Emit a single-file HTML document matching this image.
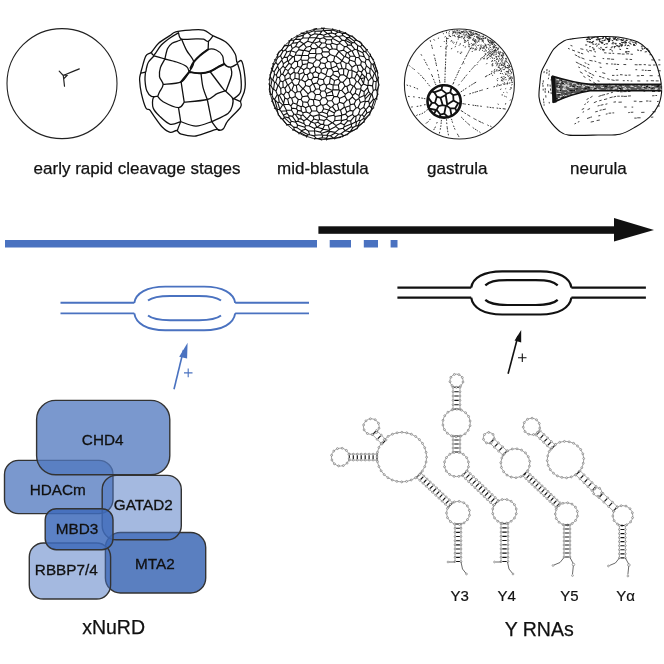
<!DOCTYPE html><html><head><meta charset="utf-8"><style>html,body{margin:0;padding:0;background:#fff;width:664px;height:664px;overflow:hidden}svg{display:block;will-change:transform}</style></head><body><svg width="664" height="664" viewBox="0 0 664 664"><circle cx="62" cy="83.6" r="55" fill="none" stroke="#222" stroke-width="1.1"/>
<path d="M59.2 71.2 L63.3 75.5 L64.5 86.2 M63.3 75.5 C68 73.5 74 71 79.3 68.9 M63.5 75 L67 75.5 L64.5 78" fill="none" stroke="#222" stroke-width="1.2" stroke-linecap="round"/>
<path d="M175.8 31.9C179.2 30.9 185.4 30.4 190.0 30.1C194.6 29.8 199.8 29.2 203.6 30.1C207.4 31.0 208.8 33.5 212.6 35.5C216.3 37.5 222.3 39.2 226.1 42.3C229.9 45.4 233.4 50.7 235.2 54.0C237.0 57.3 235.9 61.0 237.0 62.1C238.1 63.2 240.3 59.3 241.5 60.8C242.7 62.3 243.6 67.3 244.2 71.2C244.8 75.1 245.3 80.5 245.3 84.0C245.3 87.5 245.0 89.2 244.2 92.0C243.4 94.8 241.2 98.5 240.6 101.0C240.0 103.5 242.7 103.8 240.6 107.1C238.5 110.4 230.9 117.1 228.0 120.7C225.1 124.3 224.9 127.2 223.4 128.8C221.9 130.4 220.2 130.2 218.9 130.4C217.6 130.6 219.1 128.8 215.3 129.7C211.5 130.6 201.7 135.2 196.0 136.0C190.3 136.8 184.4 135.1 181.2 134.2C178.0 133.3 178.5 130.8 176.7 130.5C174.9 130.2 172.7 133.0 170.3 132.4C167.9 131.8 164.9 129.7 162.2 127.0C159.5 124.3 156.1 119.0 154.0 116.1C151.9 113.2 150.9 111.1 149.6 109.8C148.2 108.5 147.3 110.7 145.9 108.0C144.5 105.3 142.5 98.3 141.4 93.6C140.3 88.9 139.8 83.3 139.6 80.0C139.4 76.7 140.1 75.8 140.5 73.9C140.9 72.0 141.0 71.5 141.9 68.5C142.8 65.5 144.3 58.5 145.9 55.8C147.5 53.1 149.3 54.3 151.4 52.2C153.5 50.1 155.6 45.9 158.6 43.2C161.6 40.5 166.5 37.8 169.4 35.9C172.3 34.0 172.4 32.9 175.8 31.9ZM178.5 32.8C179.0 33.8 178.7 38.1 181.6 39.1C184.5 40.1 192.3 38.8 196.0 38.8C199.7 38.8 201.6 38.7 203.6 39.1C205.6 39.5 206.6 41.9 208.1 41.4C209.6 40.9 211.8 37.2 212.6 36.4M181.6 39.1C182.4 41.0 184.6 46.6 186.6 50.4C188.6 54.2 193.3 58.4 193.7 62.0C194.1 65.6 189.9 70.3 189.2 72.0M164.9 59.0C165.3 57.3 166.4 51.2 167.6 48.6C168.8 46.0 170.1 44.6 172.1 43.2C174.1 41.9 177.8 41.2 179.4 40.5C181.0 39.8 181.2 39.3 181.6 39.1M151.4 52.2C151.8 52.7 152.4 56.1 154.1 54.9C155.8 53.7 158.6 47.9 161.3 45.0C164.0 42.1 167.4 39.7 170.3 37.7C173.2 35.7 177.1 33.6 178.5 32.8M154.1 55.8C155.9 56.3 163.1 58.5 164.9 59.0M154.1 55.8C153.2 56.8 149.8 60.0 148.5 62.0C147.2 64.0 147.0 66.3 146.5 68.0C146.0 69.7 146.4 71.3 145.5 72.1C144.6 72.9 141.8 72.8 141.0 73.0M145.5 72.1C145.4 73.4 144.8 76.9 145.0 80.0C145.2 83.1 145.7 88.1 146.8 90.8C147.9 93.5 149.6 95.4 151.4 96.3C153.2 97.2 156.6 96.3 157.7 96.3M164.9 59.0C166.8 59.5 172.9 60.8 176.5 62.0C180.1 63.2 184.4 64.8 186.5 66.5C188.6 68.2 188.8 71.1 189.2 72.0M189.2 72.0C191.2 72.2 197.5 73.4 201.0 73.3C204.5 73.2 207.0 72.6 210.0 71.5C213.0 70.4 216.6 67.8 219.0 66.5C221.4 65.2 223.4 64.4 224.3 64.0M193.7 62.0C194.8 60.9 197.6 57.6 200.0 55.5C202.4 53.4 205.4 50.4 208.1 49.5C210.8 48.6 213.8 49.0 216.2 50.0C218.6 51.0 221.2 53.5 222.5 55.8C223.8 58.1 222.9 62.1 224.3 64.0C225.7 65.9 228.6 67.1 230.7 67.1C232.8 67.1 235.9 64.5 237.0 64.0M208.5 41.4C208.4 42.8 208.2 48.1 208.1 49.5M189.2 72.0C187.8 73.7 185.4 79.8 181.1 81.9C176.8 84.0 166.1 84.1 163.1 84.5M164.9 59.0C164.2 60.4 161.3 64.7 160.4 67.6C159.5 70.5 159.1 73.8 159.5 76.6C159.9 79.4 163.1 81.9 163.1 84.5C163.1 87.1 160.4 90.0 159.5 92.0C158.6 94.0 158.0 95.6 157.7 96.3M181.1 81.9C181.6 85.3 183.7 98.8 184.2 102.2M201.0 73.3C201.3 75.6 201.9 82.9 203.0 87.3C204.1 91.7 206.6 97.5 207.3 99.5M210.0 71.5C212.1 74.3 220.1 85.0 222.6 88.2C225.1 91.4 224.8 90.4 225.2 90.8M184.2 102.2C188.0 101.8 201.8 100.9 207.3 99.5C212.8 98.1 214.1 95.0 217.1 93.6C220.1 92.1 223.8 91.3 225.2 90.8M184.2 102.2C183.2 103.1 182.0 107.7 178.5 107.6C175.0 107.5 166.6 103.6 163.1 101.7C159.6 99.8 158.6 97.2 157.7 96.3M178.5 107.6C178.9 109.9 180.3 119.3 180.7 121.6M180.7 121.6C179.0 122.0 173.8 125.2 170.3 124.3C166.8 123.4 162.3 118.8 159.5 116.1C156.7 113.4 154.2 111.0 153.2 108.0C152.1 105.0 152.4 100.0 153.2 98.0C153.9 96.0 156.9 96.6 157.7 96.3M180.7 121.6C183.2 122.3 190.8 126.1 196.0 126.1C201.2 126.1 209.1 122.3 211.7 121.6M180.7 121.6C180.2 122.9 178.1 128.3 177.6 129.7M207.3 99.5C208.0 103.2 211.0 117.9 211.7 121.6M211.7 121.6C214.4 120.2 224.5 116.1 228.0 113.4C231.5 110.7 231.8 107.8 232.5 105.3C233.2 102.8 233.7 100.5 232.5 98.1C231.3 95.7 226.4 92.0 225.2 90.8M211.7 121.6C212.6 122.8 215.8 127.4 217.1 128.8C218.4 130.2 219.4 129.9 219.8 130.1M232.5 98.1C233.8 98.7 239.2 101.1 240.6 101.7M237.0 62.1C237.6 64.2 240.0 70.1 240.6 75.0C241.2 79.9 241.8 87.7 240.6 91.7C239.4 95.7 234.6 97.8 233.4 99.0M230.7 67.1C230.8 68.4 232.4 71.0 231.6 75.0C230.8 79.0 227.0 88.2 226.1 90.8" fill="none" stroke="#111" stroke-width="1.3" stroke-linejoin="round" stroke-linecap="round"/><path d="M189.2 72.0C191.2 72.2 197.5 73.4 201.0 73.3C204.5 73.2 207.0 72.6 210.0 71.5C213.0 70.4 216.6 67.8 219.0 66.5C221.4 65.2 223.4 64.4 224.3 64.0M190.5 68.0C191.0 67.0 192.1 64.1 193.7 62.0C195.3 59.9 197.6 57.6 200.0 55.5C202.4 53.4 206.8 50.5 208.1 49.5M181.1 81.9C182.4 80.2 187.8 73.7 189.2 72.0" fill="none" stroke="#111" stroke-width="2" stroke-linecap="round"/>
<path d="M309.3 51.6L311.8 48.4M364.5 119.1L363.6 118.5M356.8 72.8L352.1 70.5M372.0 93.8L371.4 94.2M296.9 114.0L301.0 115.5M359.8 41.7L359.7 41.4M291.7 108.1L291.5 110.3M332.2 91.2L333.0 95.3M351.8 77.5L352.1 70.5M274.5 82.6L275.7 82.2M301.1 106.7L302.6 106.0M315.1 135.3L322.0 134.7M345.0 130.7L341.0 133.7M306.8 33.0L304.9 33.9M271.3 68.1L272.4 69.3M345.7 68.4L343.7 69.1M271.7 101.3L272.4 100.8M345.3 40.3L344.4 40.5M288.1 72.5L290.3 74.8M270.9 85.4L272.0 79.9M283.0 66.1L283.4 63.8M316.8 106.8L320.9 104.6M270.2 76.6L269.1 80.0M333.8 84.7L338.4 85.0M327.1 113.8L328.8 110.0M298.7 132.7L299.0 133.9M320.9 104.6L322.7 105.4M372.5 85.9L373.4 80.9M301.6 131.2L300.3 132.7M374.4 63.3L377.2 71.0M281.0 74.5L279.5 77.4M323.7 35.2L319.8 34.1M295.2 96.4L291.7 98.3M296.0 121.6L292.5 116.4M301.9 55.6L300.8 59.4M335.9 126.6L336.1 125.6M336.6 66.0L331.4 68.2M365.8 109.6L365.9 109.6M334.2 137.9L335.1 138.3M273.0 98.0L274.6 99.5M302.5 64.6L300.7 67.6M352.3 36.1L349.3 35.8M311.3 79.9L313.5 77.1M309.6 134.7L308.3 134.8M287.3 57.4L287.5 60.9M279.8 109.4L282.7 104.8M354.9 49.3L352.1 51.1M342.2 40.1L338.7 36.5M302.8 88.7L303.2 88.7M347.8 44.9L351.4 45.1M350.4 131.4L353.1 127.4M354.5 56.0L355.8 57.3M346.7 38.5L345.3 40.3M368.4 81.0L368.0 85.1M354.1 86.1L356.2 89.1M288.3 84.9L292.0 81.9M359.2 97.7L364.1 95.5M296.0 121.6L297.9 121.2M364.1 95.5L364.1 91.7M326.5 39.7L331.2 39.6M364.3 56.7L362.8 52.8M354.9 61.8L349.7 60.0M314.4 29.1L313.7 30.8M312.5 73.5L313.5 77.1M319.6 41.5L314.6 43.0M304.9 33.9L301.0 33.1M343.1 128.2L345.0 130.7M371.5 109.2L373.8 107.8M355.1 93.3L359.0 95.6M307.9 60.2L309.0 58.0M358.1 81.6L360.1 78.1M353.3 86.2L354.1 86.1M315.8 48.7L315.7 53.2M274.4 108.2L275.6 108.4M351.5 43.5L351.4 45.1M279.2 101.9L282.7 104.8M296.8 104.3L297.3 105.1M321.1 72.4L319.0 73.7M281.0 74.5L282.7 74.1M277.4 109.3L279.8 109.8M317.0 82.9L313.4 83.9M323.6 108.8L321.9 111.9M297.6 66.3L300.7 67.6M297.9 121.2L304.0 123.7M349.7 60.0L349.1 58.6M294.4 129.9L298.7 132.7M282.9 81.7L280.2 80.9M293.9 84.9L291.8 90.2M330.7 62.2L331.4 68.2M360.5 120.6L363.6 118.5M313.4 99.9L314.6 99.2M364.3 56.7L366.1 59.2M332.8 74.6L330.1 77.0M300.3 91.8L302.3 96.7M351.8 77.5L349.3 78.7M325.9 74.7L321.1 72.4M326.6 119.1L332.2 122.8M303.0 112.8L302.8 114.9M332.2 122.8L328.2 125.3M356.9 73.7L354.6 78.5M355.8 100.4L358.9 98.6M329.9 131.4L335.1 132.4M346.6 52.4L347.8 52.7M376.6 97.7L377.3 94.9M305.7 125.6L304.8 127.3M337.1 44.7L332.2 43.3M307.2 74.8L310.1 72.5M284.8 76.4L288.1 72.5M306.4 136.0L308.3 134.8M277.4 109.3L274.7 99.6M343.6 50.1L346.6 52.4M324.2 120.5L319.6 119.6M316.3 37.8L316.3 37.9M324.8 90.7L321.0 91.1M352.6 42.6L351.5 43.5M308.5 79.3L305.1 82.0M345.3 94.3L341.7 90.4M313.8 29.0L314.4 29.1M321.8 43.0L318.7 47.1M339.6 42.2L339.8 43.4M370.1 68.8L369.8 73.2M308.3 62.4L307.4 63.7M333.6 61.2L334.7 56.3M364.3 56.7L359.4 55.8M358.0 125.6L355.8 126.0M377.2 71.0L375.5 71.4M273.6 89.2L276.0 91.2M347.6 134.5L343.7 135.8M342.2 68.4L343.7 69.1M278.5 114.9L277.1 109.7M289.7 54.7L290.9 50.7M297.7 110.4L296.5 108.8M330.4 135.8L335.3 133.1M368.0 85.1L367.7 85.7M284.9 98.0L287.7 99.2M326.9 117.7L319.0 114.5M365.0 77.0L364.6 77.8M347.7 120.9L344.1 124.8M321.9 111.9L319.1 113.1M309.9 106.5L309.0 106.0M315.8 89.2L313.4 83.9M372.5 78.3L374.3 73.3M352.0 67.2L351.7 70.0M356.1 64.7L352.0 67.2M327.9 135.7L326.3 138.4M365.2 62.6L361.4 61.4M336.6 35.9L335.0 33.9M317.2 127.2L316.8 127.2M325.1 42.9L326.5 39.7M335.7 111.2L334.4 112.9M287.5 84.8L285.3 79.8M332.6 122.8L336.1 125.6M321.6 133.3L322.0 134.7M360.5 46.7L363.7 51.0M315.8 48.7L311.8 48.4M354.2 103.9L356.1 107.9M343.7 103.6L347.0 99.9M332.2 122.8L332.6 122.8M279.8 109.4L279.8 109.8M282.7 119.3L280.9 118.2M323.7 35.2L327.5 33.6M376.6 97.7L374.4 99.7M288.7 41.0L290.1 40.5M288.4 61.2L287.5 60.9M333.6 61.2L330.7 62.2M339.4 102.3L339.5 98.4M303.5 35.1L297.3 37.0M283.0 51.3L281.9 49.8M288.9 115.6L292.5 116.4M284.0 57.3L282.1 59.2M306.9 118.8L307.0 119.0M301.0 115.5L301.0 118.8M312.5 73.5L310.1 72.5M270.0 94.5L270.3 93.5M272.9 89.5L272.1 95.2M359.0 95.6L361.0 89.7M344.3 126.7L344.1 124.8M304.9 33.9L303.5 35.1M347.6 134.6L347.6 134.5M310.8 35.5L309.4 37.5M355.1 93.3L356.2 89.1M324.8 90.7L326.5 87.8M292.3 48.6L290.9 44.7M359.8 41.7L361.3 43.2M356.5 121.8L355.8 126.0M323.4 79.7L324.2 83.7M343.0 35.5L338.7 36.5M294.2 69.2L297.6 66.3M290.9 50.7L292.3 48.6M340.5 62.7L342.2 68.4M303.4 50.6L304.0 50.3M322.1 30.9L315.1 31.3M323.8 30.2L330.9 30.5M325.9 74.7L327.8 69.0M370.2 93.6L365.2 99.0M350.7 120.8L347.7 120.9M313.7 66.3L309.8 69.2M290.6 90.2L291.8 90.2M279.4 95.2L283.6 103.3M295.6 46.5L297.6 42.6M330.4 44.2L332.2 43.3M312.6 42.8L312.5 42.8M299.8 80.1L298.4 84.1M318.7 66.8L321.3 69.3M318.0 77.5L318.7 78.6M376.6 97.7L376.9 99.4M361.9 44.7L360.5 46.7M352.4 36.0L352.3 36.1M305.6 129.3L301.4 130.6M277.1 109.7L277.4 109.3M282.7 104.8L283.7 104.9M277.9 102.8L274.7 99.6M312.6 42.8L310.3 46.3M288.9 63.3L285.1 68.2M363.5 83.4L363.5 83.9M363.4 69.1L361.5 72.1M319.0 73.7L315.4 71.5M282.1 59.2L280.5 55.6M360.1 78.1L361.0 78.6M351.1 123.9L344.3 126.7M301.6 79.8L305.1 82.0M291.5 110.3L293.9 114.0M329.9 131.4L326.7 135.3M290.6 90.2L288.3 84.9M331.2 36.6L324.1 36.8M326.7 135.3L322.9 135.2M369.0 56.3L366.0 52.2M326.5 57.7L327.8 61.3M356.0 40.2L352.3 36.1M327.4 139.0L326.4 139.9M318.8 114.8L319.0 114.5M331.9 100.5L327.9 101.0M303.7 43.7L299.7 41.2M354.3 41.1L349.5 37.5M286.8 52.0L285.5 49.8M326.3 85.2L324.2 83.7M276.3 75.0L277.2 77.4M334.3 104.3L332.4 106.7M346.8 77.0L347.1 77.6M338.7 36.5L336.6 35.9M270.2 75.2L269.8 74.8M322.9 135.2L322.0 134.7M281.0 111.2L279.8 109.8M360.1 109.6L363.7 107.3M287.2 113.3L288.9 115.6M287.5 60.9L283.4 63.8M319.0 114.5L319.1 113.1M324.2 120.5L323.5 124.3M299.2 79.4L299.2 74.2M316.8 106.8L314.0 105.1M373.3 90.6L375.7 89.5M287.5 84.8L288.3 84.9M325.1 42.9L326.5 44.1M338.8 109.7L337.4 104.1M281.0 111.2L286.3 110.7M286.8 52.0L284.0 57.3M370.2 93.6L368.7 91.5M295.4 55.0L301.9 55.6M294.1 72.0L295.1 73.0M319.5 60.5L323.1 56.9M345.4 33.4L345.7 32.5M345.0 86.1L341.7 90.4M366.1 49.2L366.0 52.2M295.1 73.0L294.9 78.3M291.7 108.1L290.9 105.9M300.3 132.7L298.7 132.7M272.3 70.4L272.4 69.3M309.5 99.0L313.4 99.9M277.3 94.6L278.1 95.2M298.5 118.9L301.0 118.8M363.5 83.4L361.0 78.6M285.9 91.7L283.6 95.1M346.6 119.3L347.9 116.9M295.4 114.5L293.9 114.0M366.5 65.8L370.1 68.8M334.7 56.3L335.9 55.9M333.4 71.7L332.8 74.6M358.7 120.4L360.5 120.6M303.7 69.8L306.9 67.8M350.4 104.8L349.1 100.0M314.6 43.0L312.6 42.8M326.5 103.9L330.3 107.4M303.6 72.4L304.7 74.2M277.9 102.8L279.8 109.4M343.6 74.6L340.1 75.1M293.6 127.1L294.4 129.9M284.9 98.0L283.6 103.3M354.5 56.0L350.2 56.2M318.4 34.4L316.3 37.8M290.1 40.5L290.4 40.3M297.3 91.5L295.2 93.2M373.4 99.2L369.5 104.1M315.1 135.3L314.0 135.9M373.3 90.6L372.5 85.9M340.0 32.4L338.2 32.1M350.2 110.4L346.8 112.3M272.8 79.5L274.4 74.5M301.6 79.8L304.7 74.2M346.8 112.3L345.5 114.1M318.3 47.2L314.6 43.0M356.1 107.9L358.0 107.5M374.4 63.3L372.9 64.5M274.4 74.5L274.2 71.7M330.4 44.2L332.4 48.7M307.4 63.7L306.9 67.8M367.4 49.6L366.1 49.2M363.7 107.3L365.8 109.6M306.4 111.9L305.6 107.8M332.8 74.6L338.6 77.6M346.1 63.4L345.7 68.4M339.6 90.5L339.0 89.9M306.3 47.3L310.3 46.3M329.4 130.9L321.6 133.3M307.8 32.9L313.7 30.8M302.8 101.8L301.0 99.5M306.8 33.0L307.8 32.9M359.8 41.7L356.0 40.2M357.3 50.1L357.7 45.5M297.6 42.6L292.6 43.2M291.7 98.3L293.1 102.9M290.9 44.7L288.3 46.0M302.8 114.9L301.0 115.5M328.1 116.4L327.1 113.8M322.1 30.9L319.8 34.1M366.9 112.9L370.3 111.5M345.1 130.7L345.0 130.7M366.1 76.7L366.7 73.3M330.4 44.2L326.5 44.1M357.2 65.5L356.1 64.7M369.1 59.9L371.1 63.5M359.2 97.7L359.0 95.6M325.6 97.6L326.5 95.9M288.6 92.9L289.9 97.3M285.9 91.7L285.0 88.2M361.3 43.2L361.8 43.3M340.5 110.0L344.3 107.2M280.0 69.5L283.0 66.1M338.8 69.2L342.2 68.4M321.3 69.3L325.7 67.4M316.8 127.2L314.4 128.4M362.1 114.7L360.7 115.4M355.8 100.4L354.2 103.9M291.0 124.9L293.6 127.1M329.4 83.7L330.4 77.8M282.7 74.1L285.2 68.9M355.8 57.3L358.9 57.7M296.3 85.5L297.3 91.5M281.8 60.1L283.4 63.8M339.4 102.3L343.7 103.6M309.0 125.7L305.7 125.6M316.3 37.8L309.4 37.5M313.9 118.9L318.3 120.3M377.9 73.1L377.3 71.1M286.3 110.0L286.3 110.7M363.9 121.8L358.5 126.0M270.9 85.4L269.7 85.7M354.9 61.8L355.8 57.3M366.7 73.3L365.0 69.6M293.9 84.9L292.0 81.9M339.6 42.2L342.2 40.1M295.5 39.1L294.2 40.0M318.8 114.8L313.2 116.4M339.8 43.4L344.4 46.6M332.8 38.6L331.2 39.6M362.1 114.7L365.8 109.6M297.7 110.4L296.9 114.0M351.8 77.5L354.6 78.5M368.6 101.1L365.3 101.7M275.7 82.2L277.9 85.7M272.8 63.6L273.9 64.9M330.1 77.0L330.4 77.8M333.8 84.7L334.5 80.6M314.6 99.2L315.5 94.8M338.0 71.1L340.1 75.1M294.2 69.2L291.2 67.0M312.5 42.8L307.7 41.3M290.3 74.8L290.1 77.7M326.4 93.5L326.5 95.9M321.1 72.4L321.3 69.3M360.1 109.6L358.4 114.5M298.5 118.9L297.9 121.2M332.7 28.7L332.7 29.9M370.1 68.8L370.9 68.3M308.4 131.0L309.6 134.7M286.3 110.0L291.5 110.3M361.4 61.4L358.9 57.7M301.6 131.2L308.3 134.8M320.8 62.8L325.0 63.6M305.7 125.6L304.0 123.7M351.7 124.0L351.2 126.8M326.7 135.3L327.9 135.7M321.8 43.0L325.1 42.9M347.9 116.9L345.5 114.1M343.7 135.8L341.9 137.0M349.5 37.5L349.3 35.8M313.5 77.1L318.0 77.5M333.3 137.9L330.4 135.8M283.6 95.1L281.0 93.6M304.8 127.3L305.6 129.3M352.1 51.1L351.2 50.7M348.7 70.3L346.8 77.0M377.7 80.2L377.0 80.0M288.4 61.2L288.9 63.3M358.4 114.5L360.7 115.4M361.3 43.2L361.9 44.7M322.6 51.8L328.8 51.9M285.5 49.8L283.0 51.3M288.9 104.3L283.8 104.6M346.6 119.3L341.7 120.6M333.8 115.3L335.1 116.5M280.0 69.5L279.0 69.4M344.2 56.7L342.0 60.8M306.9 118.8L302.8 114.9M292.5 116.4L293.9 114.0M280.7 88.6L281.0 93.6M344.2 56.7L338.8 51.4M323.1 129.2L322.8 128.9M280.9 118.2L280.8 118.7M319.0 73.7L318.0 77.5M348.7 70.3L345.7 68.4M326.5 57.7L323.1 56.9M364.1 91.7L367.6 87.6M329.6 129.7L328.2 125.3M358.7 120.4L360.7 115.4M329.2 130.2L323.1 129.2M326.3 138.4L327.4 139.0M293.6 127.1L297.0 127.6M354.7 42.7L354.3 41.1M319.9 94.2L315.5 94.8M319.6 119.6L318.3 120.3M326.5 57.7L330.1 54.5M288.0 45.4L288.3 46.0M302.8 88.7L300.3 91.8M301.0 118.8L303.8 120.7M316.7 110.7L319.1 113.1M349.3 78.7L347.1 77.6M315.1 31.3L314.8 33.8M303.5 35.1L302.8 38.0M332.8 37.5L331.2 36.6M283.4 115.2L287.2 113.3M304.0 123.7L303.8 120.7M299.0 47.5L298.8 49.6M344.9 107.4L344.3 107.2M308.5 79.3L307.2 74.8M354.5 56.0L352.1 51.1M350.2 110.4L353.1 111.1M361.9 44.7L366.1 49.2M338.6 79.1L338.6 77.6M301.4 130.6L297.0 127.6M301.9 55.6L302.0 55.5M318.2 138.5L321.8 140.0M364.8 96.4L368.7 91.5M346.7 38.5L346.4 37.6M354.4 116.4L356.1 116.1M284.1 116.8L289.0 117.9M364.5 119.1L369.6 114.2M296.5 108.8L291.7 108.1M352.6 95.3L355.1 93.3M317.9 122.3L318.3 120.3M356.8 72.8L356.9 73.7M307.6 102.4L309.0 106.0M360.1 109.6L358.0 107.5M290.9 50.7L286.8 52.0M324.2 83.7L319.9 85.7M323.6 108.8L328.8 110.0M353.1 111.1L352.6 114.6M340.7 123.3L336.1 125.6M280.7 88.6L283.1 87.1M347.0 99.9L349.1 100.0M291.7 98.3L289.9 97.3M369.1 105.8L365.9 109.6M309.4 53.5L308.3 55.2M277.6 66.1L277.9 64.8M349.1 100.0L352.3 97.0M334.7 138.9L335.1 138.3M284.2 117.7L284.1 116.8M291.3 64.6L291.2 67.0M326.6 119.1L326.9 117.7M366.9 112.9L365.9 109.6M303.4 50.6L302.0 55.5M346.8 77.0L343.6 74.6M325.9 74.7L326.5 76.0M287.7 99.2L288.9 104.3M323.8 30.2L323.0 28.4M339.6 30.3L340.0 32.4M299.2 74.2L303.6 72.4M314.8 33.8L318.4 34.4M295.8 122.2L297.5 124.9M292.6 43.2L294.2 40.0M343.6 50.1L338.8 51.3M377.0 90.8L379.0 85.1M333.0 89.7L339.0 89.9M328.8 110.0L330.3 107.4M329.7 49.8L328.8 51.9M301.1 106.7L301.3 111.1M314.7 130.8L314.4 128.4M343.7 135.8L341.0 133.7M282.9 81.7L285.2 79.7M294.1 72.0L290.3 74.8M314.8 123.3L311.4 121.9M361.0 89.7L360.7 88.7M373.3 90.6L372.0 93.8M318.3 47.2L318.7 47.1M335.9 55.9L342.0 60.8M356.2 89.1L360.7 88.7M336.8 63.7L336.6 66.0M360.4 102.5L358.0 107.5M338.2 32.1L332.7 29.9M272.0 79.9L272.8 79.5M368.6 101.1L369.5 104.1M327.9 135.7L330.4 135.8M332.7 29.9L330.9 30.5M347.0 99.9L344.8 96.1M371.5 109.2L370.3 111.5M314.0 135.9L309.6 134.7M322.0 137.7L326.3 138.4M319.3 88.8L315.8 89.2M375.7 89.5L377.0 90.8M352.6 42.6L354.7 42.7M274.6 99.5L274.7 99.6M272.0 79.9L270.2 76.6M272.4 100.8L275.6 108.4M311.8 111.0L309.9 106.5M347.6 134.5L349.9 131.7M338.8 109.7L335.7 111.2M294.7 61.1L297.5 61.6M309.5 99.0L307.6 102.4M333.8 115.3L328.1 116.4M297.9 72.8L300.7 67.6M363.5 83.4L364.6 77.8M297.3 37.0L297.0 35.2M308.1 93.9L310.9 91.5M358.4 70.7L356.8 72.8M334.7 56.3L330.1 54.5M361.0 78.6L364.6 77.8M333.0 95.3L334.1 96.6M338.8 109.7L340.5 110.0M278.6 85.5L280.2 80.9M357.2 50.1L359.4 55.8M310.5 114.9L306.9 118.8M315.2 57.5L316.4 54.0M352.3 97.0L352.6 95.3M291.3 121.2L289.0 117.9M319.9 94.2L321.0 91.1M292.7 56.8L288.4 61.2M309.4 37.5L308.9 37.7M314.4 139.1L316.3 138.3M299.2 74.2L297.9 72.8M294.1 72.0L294.2 69.2M304.8 127.3L297.5 124.9M275.8 62.4L273.9 64.9M340.1 75.1L338.6 77.6M370.4 54.0L370.7 56.1M289.9 97.3L287.7 99.2M351.7 124.0L355.5 121.9M312.5 42.8L316.3 37.9M319.8 100.8L322.1 97.8M342.2 40.1L344.4 40.5M323.5 30.5L322.1 30.9M375.0 73.3L374.3 73.3M368.7 91.5L367.6 87.6M336.8 49.4L338.8 51.3M363.4 69.1L365.0 69.6M338.8 51.3L338.8 51.4M369.1 59.9L366.1 59.2M303.0 112.8L301.3 111.1M319.9 85.7L319.3 88.8M350.2 84.2L346.9 86.5M301.3 111.1L297.7 110.4M364.1 91.7L361.0 89.7M349.1 58.6L350.2 56.2M297.5 124.9L297.0 127.6M309.0 58.0L315.2 57.5M364.8 96.4L364.1 95.5M284.1 116.8L283.4 115.2M294.7 61.1L291.3 64.6M307.8 32.9L310.8 35.5M377.7 80.2L379.0 84.9M357.3 50.1L362.8 52.8M285.1 68.2L283.0 66.1M290.9 44.7L292.6 43.2M347.1 77.6L343.0 82.4M292.0 81.9L292.1 80.6M290.2 123.1L291.3 121.2M337.3 96.4L339.6 90.5M278.1 95.2L279.2 101.9M323.1 56.9L321.3 53.5M335.7 111.2L332.4 106.7M358.4 70.7L361.5 72.1M370.9 68.3L371.1 63.5M332.2 43.3L331.2 39.6M279.5 77.4L277.2 77.4M316.8 127.2L314.8 123.3M309.8 113.4L306.4 111.9M350.4 104.8L354.2 103.9M345.3 94.3L348.3 92.0M322.6 51.8L321.7 48.4M377.7 80.2L378.6 77.1M335.0 33.9L338.2 32.1M373.4 80.9L372.5 78.3M269.7 85.7L269.3 89.9M375.7 89.5L376.1 81.8M273.0 98.0L272.4 100.8M297.6 66.3L297.5 61.6M277.6 54.3L277.8 57.6M319.8 34.1L318.4 34.4M293.1 102.9L290.9 105.9M355.5 121.9L356.5 121.8M337.1 44.7L336.8 49.4M285.2 68.9L285.1 68.2M282.1 59.2L281.8 60.1M295.2 93.2L291.8 90.2M270.9 85.4L272.9 89.5M332.3 90.4L332.2 91.2M299.0 47.5L303.7 43.7M341.6 115.4L341.2 120.0M322.6 51.8L321.3 53.5M302.8 101.8L307.6 102.4M332.8 38.6L339.6 42.2M341.9 115.1L345.5 114.1M292.7 56.8L289.7 54.7M372.0 93.8L373.4 99.2M303.4 50.6L298.8 49.6M290.2 123.1L291.0 124.9M309.3 51.6L309.4 53.5M366.0 52.2L363.7 51.0M294.9 78.3L292.1 80.6M309.4 53.5L315.7 53.2M335.9 126.6L339.1 129.1M354.6 78.5L356.4 81.7M356.1 116.1L355.5 121.9M322.0 137.7L318.2 138.5M325.9 46.8L329.7 49.8M357.7 45.5L360.5 46.7M277.1 109.7L275.6 108.4M281.9 49.8L284.4 45.6M349.9 131.7L350.4 131.4M337.4 104.1L339.4 102.3M314.4 131.0L308.4 131.0M297.3 37.0L295.5 39.1M300.3 91.8L297.3 91.5M311.4 121.9L311.0 121.9M283.6 103.3L283.8 104.6M325.7 67.4L327.8 69.0M282.9 81.7L283.1 87.1M363.5 83.9L367.7 85.7M320.9 104.6L319.8 100.8M315.8 67.5L313.7 66.3M333.6 61.2L336.8 63.7M354.9 61.8L356.1 64.7M359.2 97.7L358.9 98.6M315.7 53.2L316.4 54.0M276.3 75.0L274.4 74.5M325.6 97.6L327.9 101.0M285.0 88.2L283.1 87.1M374.4 99.7L371.6 107.8M322.8 128.9L324.6 125.2M335.3 133.1L338.7 134.2M360.7 64.9L361.4 61.4M365.0 101.0L360.4 102.5M311.8 48.4L310.3 46.3M340.0 32.4L341.9 33.2M343.6 50.1L344.4 46.6M346.4 37.6L349.5 37.5M369.0 56.3L370.7 56.1M322.9 135.2L322.0 137.7M309.8 113.4L311.8 111.0M329.2 130.2L329.4 130.9M289.7 54.7L287.3 57.4M337.3 96.4L334.1 96.6M269.7 85.7L269.0 83.7M283.7 104.9L286.3 110.0M288.6 92.9L290.6 90.2M362.0 73.8L360.1 77.8M319.5 60.5L320.8 62.8M307.7 95.9L309.5 99.0M333.0 95.3L326.5 95.9M369.6 114.2L369.8 115.0M309.0 58.0L308.3 55.2M365.0 101.0L365.3 101.7M344.4 46.6L346.7 46.6M297.6 42.6L299.7 41.2M352.6 95.3L350.1 92.2M322.1 97.8L325.6 97.6M302.8 38.0L300.8 39.4M328.2 125.3L324.6 125.2M373.4 99.2L374.4 99.7M282.7 74.1L284.8 76.4M354.1 86.1L356.4 81.7M302.0 55.5L308.3 55.2M314.0 105.1L309.9 106.5M339.5 98.4L337.3 96.4M327.8 69.0L331.3 68.4M283.6 95.1L284.9 98.0M298.3 99.5L295.2 96.4M336.8 63.7L340.5 62.7M372.5 85.9L368.0 85.1M372.9 64.5L371.1 63.5M326.9 117.7L328.1 116.4M288.0 45.4L284.4 45.6M332.4 48.7L329.7 49.8M306.4 111.9L303.0 112.8M335.1 116.5L341.6 115.4M305.6 107.8L302.6 106.0M313.2 116.4L313.9 118.9M358.9 98.6L360.4 102.5M335.0 33.9L331.9 32.9M334.1 96.6L331.9 100.5M366.5 65.8L365.2 62.6M274.5 82.6L272.8 79.5M274.2 71.7L277.6 66.1M317.2 127.2L320.9 124.4M346.7 38.5L352.6 42.6M313.7 66.3L313.0 63.5M333.0 89.7L332.3 90.4M277.3 94.6L274.6 99.5M285.3 79.8L290.1 77.7M343.0 35.5L341.9 33.2M321.0 91.1L319.3 88.8M283.0 51.3L280.5 55.6M280.5 55.6L277.8 57.6M295.5 39.1L300.8 39.4M295.8 122.2L296.0 121.6M346.7 46.6L347.8 44.9M281.0 93.6L279.4 95.2M365.0 69.6L366.5 65.8M299.8 80.1L301.6 79.8M299.8 80.1L299.2 79.4M277.9 85.7L278.6 85.5M343.7 103.6L344.3 107.2M340.4 81.9L343.0 82.4M329.4 83.7L326.3 85.2M346.7 46.6L351.2 50.7M319.5 60.5L316.3 59.8M291.7 38.7L290.4 40.3M284.5 45.0L284.4 45.6M351.1 123.9L350.7 120.8M353.3 86.2L350.1 92.2M294.2 40.0L290.4 40.3M309.7 86.6L312.8 83.7M368.4 81.0L366.1 76.7M332.8 38.6L332.8 37.5M307.0 119.0L303.8 120.7M314.6 99.2L319.8 100.8M284.0 57.3L287.3 57.4M280.7 88.6L278.6 85.5M364.1 116.9L363.6 118.5M305.6 85.5L309.7 86.6M318.7 78.6L317.0 82.9M375.5 71.4L375.0 73.3M315.8 48.7L318.3 47.2M348.7 70.3L351.7 70.0M366.1 76.7L365.0 77.0M321.8 43.0L319.6 41.5M325.9 46.8L326.5 44.1M320.0 38.7L316.3 37.9M318.7 66.8L315.8 67.5M351.7 70.0L352.1 70.5M371.4 94.2L368.6 101.1M298.4 84.1L302.8 88.7M335.9 55.9L338.8 51.4M349.3 78.7L350.2 84.2M294.3 56.4L295.4 55.0M300.8 59.4L301.9 60.2M345.2 56.6L349.1 58.6M272.1 95.2L270.3 93.5M341.7 90.4L339.6 90.5M272.3 70.4L270.2 75.2M338.4 85.0L339.0 89.9M376.1 81.8L373.4 80.9M306.3 47.3L303.8 43.7M358.0 125.6L360.5 120.6M354.7 42.7L357.7 45.5M307.7 95.9L302.3 96.7M364.4 122.0L363.9 121.8M348.5 63.0L346.1 63.4M354.4 116.4L350.7 120.8M322.7 105.4L326.5 103.9M284.2 117.7L290.2 123.1M296.3 85.5L293.9 84.9M305.6 85.5L303.2 88.7M291.3 64.6L288.9 63.3M339.5 98.4L344.8 96.1M313.4 99.9L314.0 105.1M360.7 64.9L363.4 69.1M355.8 126.0L353.1 127.4M353.3 86.2L350.2 84.2M279.4 95.2L278.1 95.2M358.4 70.7L357.2 65.5M292.1 80.6L290.1 77.7M295.4 55.0L296.2 52.4M292.7 56.8L294.3 56.4M277.1 54.7L277.6 54.3M274.2 71.7L272.3 70.4M360.1 78.1L360.1 77.8M363.5 83.9L361.3 86.0M300.7 67.6L300.7 67.6M280.2 80.9L279.5 77.4M342.0 60.8L342.0 60.8M310.5 114.9L313.2 116.4M299.7 41.2L300.8 39.4M339.1 129.1L343.1 128.2M345.4 33.4L349.3 35.8M345.0 86.1L343.0 82.4M306.4 136.0L306.6 137.1M285.9 91.7L288.6 92.9M345.1 130.7L351.2 126.8M328.0 33.6L331.9 32.9M317.9 122.3L314.8 123.3M301.9 60.2L302.5 64.6M341.7 120.6L340.7 123.3M303.6 72.4L303.7 69.8M273.6 89.2L274.5 82.6M269.4 90.9L270.3 93.5M277.9 64.8L281.8 60.1M369.1 59.9L369.0 56.3M272.1 95.2L273.0 98.0M363.9 121.8L364.5 119.1M335.1 116.5L334.7 120.7M361.5 72.1L362.0 73.8M319.9 85.7L317.0 82.9M302.8 101.8L302.6 106.0M315.1 135.3L314.4 131.0M358.1 81.6L361.3 86.0M338.8 69.2L338.0 71.1M314.4 131.0L314.7 130.8M278.0 114.7L278.5 114.9M274.4 59.8L276.3 60.3M307.7 41.3L303.8 43.7M278.5 114.9L280.9 118.2M331.9 100.5L334.3 104.3M323.4 79.7L318.7 78.6M291.2 67.0L288.1 70.6M341.7 120.6L341.2 120.0M320.9 124.4L317.9 122.3M304.7 74.2L307.2 74.8M362.8 52.8L363.7 51.0M344.2 56.7L345.2 56.6M323.5 30.5L323.8 30.2M288.0 45.4L290.1 40.5M333.1 85.1L333.8 84.7M315.8 89.2L313.4 91.9M310.9 91.5L309.7 86.6M330.7 62.2L327.8 61.3M298.3 99.5L301.0 99.5M377.0 80.0L375.0 73.3M331.2 36.6L328.0 33.6M330.1 54.5L328.8 51.9M310.8 35.5L314.8 33.8M312.5 73.5L315.4 71.5M289.0 117.9L288.9 115.6M349.8 105.7L350.4 104.8M332.4 48.7L336.8 49.4M315.4 71.5L315.8 67.5M344.9 107.4L346.8 112.3M357.3 128.6L358.5 126.0M323.4 79.7L326.5 76.0M358.5 126.0L358.0 125.6M301.9 60.2L307.9 60.2M326.5 76.0L330.1 77.0M331.9 32.9L330.9 30.5M316.3 138.3L314.0 135.9M341.9 33.2L345.4 33.4M316.7 110.7L316.8 106.8M318.2 138.5L316.3 138.3M356.9 73.7L360.1 77.8M334.2 137.9L333.3 137.9M376.1 81.8L377.0 80.0M293.1 102.9L296.8 104.3M343.0 35.5L346.4 37.6M308.3 62.4L313.0 63.5M296.5 108.8L297.3 105.1M326.4 93.5L324.8 90.7M296.9 114.0L295.4 114.5M326.4 93.5L332.2 91.2M301.0 99.5L302.3 96.7M373.7 60.0L370.7 56.1M332.3 90.4L326.5 87.8M321.7 48.4L318.7 47.1M310.5 114.9L309.8 113.4M360.7 64.9L357.2 65.5M366.1 59.2L365.2 62.6M338.0 71.1L333.4 71.7M354.4 116.4L352.6 114.6M282.7 119.3L284.2 117.7M314.7 130.8L320.2 132.1M298.8 49.6L296.2 52.4M318.8 114.8L319.6 119.6M370.3 111.5L369.6 114.2M320.2 132.1L321.6 133.3M324.6 125.2L323.5 124.3M371.6 107.8L369.1 105.8M326.5 103.9L327.9 101.0M337.1 44.7L339.8 43.4M276.3 75.0L279.0 69.4M323.7 35.2L324.1 36.8M338.6 79.1L340.4 81.9M281.0 111.2L283.4 115.2M310.1 72.5L309.8 69.2M349.9 131.7L345.1 130.7M351.1 123.9L351.7 124.0M346.9 86.5L345.0 86.1M353.1 111.1L356.1 107.9M352.0 67.2L348.5 63.0M305.6 107.8L309.0 106.0M347.9 116.9L352.6 114.6M367.7 85.7L367.6 87.6M344.8 96.1L345.3 94.3M348.3 92.0L346.9 86.5M365.3 101.7L363.7 107.3M356.1 116.1L358.4 114.5M298.4 84.1L296.3 85.5M345.2 56.6L346.6 52.4M305.1 82.0L305.6 85.5M311.0 121.9L309.0 125.7M299.2 79.4L294.9 78.3M322.7 105.4L323.6 108.8M290.9 105.9L288.9 104.3M377.4 70.7L377.3 71.1M282.7 119.3L286.6 124.3M371.4 94.2L370.2 93.6M354.9 49.3L351.4 45.1M362.0 73.8L365.0 77.0M341.9 115.1L340.5 110.0M325.0 63.6L325.7 67.4M334.4 112.9L328.8 110.0M349.8 105.7L344.9 107.4M303.7 43.7L303.8 43.7M339.1 129.1L335.1 132.4M307.7 95.9L308.1 93.9M316.3 59.8L315.2 57.5M290.9 50.7L290.9 50.7M295.1 73.0L297.9 72.8M313.9 118.9L311.4 121.9M279.3 51.4L281.9 49.8M347.7 120.9L346.6 119.3M356.5 121.8L358.7 120.4M310.9 91.5L313.4 91.9M279.0 69.4L277.6 66.1M333.8 115.3L334.4 112.9M334.2 137.9L338.7 134.2M372.9 64.5L375.5 71.4M332.8 37.5L336.6 35.9M329.4 130.9L329.9 131.4M366.9 112.9L364.1 116.9M329.2 130.2L329.6 129.7M334.5 80.6L330.4 77.8M323.1 129.2L320.2 132.1M337.4 104.1L334.3 104.3M361.3 86.0L360.7 88.7M335.1 138.3L340.5 137.4M317.2 127.2L322.8 128.9M350.1 92.2L348.3 92.0M335.1 132.4L335.3 133.1M285.2 68.9L288.1 70.6M349.8 105.7L350.2 110.4M286.6 124.3L291.0 124.9M297.5 61.6L300.8 59.4M311.3 79.9L312.8 83.7M308.3 62.4L307.9 60.2M306.8 33.0L307.0 30.7M283.8 104.6L283.7 104.9M371.6 107.8L371.5 109.2M357.0 128.8L350.4 131.4M365.2 99.0L365.0 101.0M357.2 50.1L354.9 49.3M332.6 122.8L334.7 120.7M314.4 128.4L309.0 125.7M276.3 60.3L277.8 57.6M377.3 94.9L378.1 94.1M285.0 88.2L287.5 84.8M275.8 62.4L276.3 60.3M370.9 68.3L374.3 73.3M326.5 39.7L323.6 37.8M374.4 63.3L374.6 62.0M333.4 71.7L331.3 68.4M309.3 51.6L304.0 50.3M322.1 97.8L319.9 94.2M319.6 41.5L320.0 38.7M303.7 69.8L300.7 67.6M356.4 81.7L358.1 81.6M341.6 115.4L341.9 115.1M311.8 111.0L316.7 110.7M308.9 37.7L302.8 38.0M340.5 62.7L342.0 60.8M327.5 33.6L328.0 33.6M323.6 37.8L324.1 36.8M347.8 44.9L344.4 40.5M277.6 54.3L279.0 51.8M345.3 40.3L351.5 43.5M288.1 70.6L288.1 72.5M343.7 69.1L343.6 74.6M320.9 124.4L323.5 124.3M347.8 52.7L351.2 50.7M312.8 83.7L313.4 83.9M295.8 122.2L291.3 121.2M349.7 60.0L348.5 63.0M369.8 73.2L371.5 77.6M295.4 114.5L298.5 118.9M371.5 77.6L372.5 78.3M365.2 99.0L364.8 96.4M333.3 137.9L327.4 139.0M276.0 91.2L277.3 94.6M272.4 69.3L273.9 64.9M275.7 82.2L277.2 77.4M302.5 64.6L307.4 63.7M341.0 133.7L338.7 134.2M355.8 100.4L352.3 97.0M326.6 119.1L324.2 120.5M338.4 85.0L340.4 81.9M299.0 47.5L295.6 46.5M313.0 63.5L316.3 59.8M309.8 69.2L306.9 67.8M298.3 99.5L296.8 104.3M377.2 71.0L377.3 71.1M281.0 74.5L280.0 69.5M333.0 89.7L333.1 85.1M303.2 88.7L308.1 93.9M325.0 63.6L327.8 61.3M359.4 55.8L358.9 57.7M295.6 46.5L292.3 48.6M320.8 62.8L318.7 66.8M311.0 121.9L307.0 119.0M328.8 110.0L328.8 110.0M331.3 68.4L331.4 68.2M313.7 30.8L315.1 31.3M368.4 81.0L371.5 77.6M366.7 73.3L369.8 73.2M332.4 106.7L330.3 107.4M334.5 80.6L338.6 79.1M301.1 106.7L297.3 105.1M284.8 76.4L285.2 79.7M273.6 89.2L272.9 89.5M342.0 60.8L346.1 63.4M304.0 50.3L306.3 47.3M285.2 79.7L285.3 79.8M321.3 28.1L323.0 28.4M344.3 126.7L343.1 128.2M323.0 28.4L324.3 28.0M294.3 56.4L294.7 61.1M351.2 126.8L353.1 127.4M276.0 91.2L277.9 85.7M295.2 96.4L295.2 93.2M277.9 102.8L279.2 101.9M277.9 64.8L275.8 62.4M294.4 129.9L292.5 129.9M321.9 111.9L327.1 113.8M344.1 124.8L340.7 123.3M329.6 129.7L335.9 126.6M325.9 46.8L321.7 48.4M334.7 120.7L341.2 120.0M357.2 50.1L357.3 50.1M369.5 104.1L369.1 105.8M338.8 69.2L336.6 66.0M315.5 94.8L313.4 91.9M326.5 87.8L326.3 85.2M333.1 85.1L329.4 83.7M307.7 41.3L308.9 37.7M356.0 40.2L354.3 41.1M286.6 124.3L286.9 125.4M321.3 53.5L316.4 54.0M350.2 56.2L347.8 52.7M285.5 49.8L288.3 46.0M308.4 131.0L305.6 129.3M270.2 76.6L270.2 75.2M314.4 29.1L316.7 28.5M301.6 131.2L301.4 130.6M323.5 30.5L327.5 33.6M308.5 79.3L311.3 79.9M320.0 38.7L323.6 37.8M300.3 132.7L306.4 136.0M377.3 94.9L377.0 90.8M362.1 114.7L364.1 116.9M287.2 113.3L286.3 110.7M296.2 52.4L290.9 50.7" fill="none" stroke="#111" stroke-width="1.1" stroke-linecap="round" stroke-linejoin="round"/>
<ellipse cx="324" cy="84" rx="54.5" ry="55.5" fill="none" stroke="#111" stroke-width="0.9"/>
<circle cx="459.4" cy="84" r="55" fill="none" stroke="#222" stroke-width="1.1"/>
<path d="M462.8 103.7l0.8 0.1M464.6 104.0l0.8 0.1M468.4 104.5l0.8 0.1M472.9 105.2l0.8 0.1M475.2 105.5l0.8 0.1M477.3 105.8l0.8 0.1M480.6 106.2l0.8 0.1M487.2 107.0l0.8 0.1M490.1 107.4l0.8 0.1M492.7 107.7l0.8 0.1M497.0 108.1l0.8 0.1M499.7 108.4l0.8 0.1M503.1 108.7l0.8 0.1M504.5 108.9l0.8 0.1M461.2 110.7l0.7 0.4M462.3 111.4l0.7 0.4M464.8 113.1l0.7 0.4M467.7 114.9l0.7 0.4M469.2 115.8l0.7 0.4M473.8 118.5l0.7 0.4M475.5 119.4l0.7 0.4M478.9 121.1l0.7 0.4M480.4 121.9l0.7 0.4M482.5 122.8l0.7 0.4M487.7 125.1l0.7 0.4M490.5 126.2l0.7 0.4M461.5 117.3l0.6 0.5M463.0 119.0l0.6 0.5M465.6 121.5l0.6 0.5M467.7 123.4l0.6 0.5M469.0 124.5l0.6 0.5M473.0 127.7l0.6 0.5M475.1 129.1l0.6 0.5M476.9 130.3l0.6 0.5M479.6 132.0l0.6 0.5M451.5 119.2l0.3 0.7M452.2 121.7l0.3 0.7M453.6 126.0l0.3 0.7M454.6 128.5l0.3 0.7M457.5 134.1l0.3 0.7M458.5 135.8l0.3 0.7M446.5 119.6l0.1 0.8M446.7 122.9l0.1 0.8M447.1 126.6l0.1 0.8M447.3 128.3l0.1 0.8M447.7 131.0l0.1 0.8M448.3 134.1l0.1 0.8M441.4 120.3l-0.1 0.8M441.2 122.8l-0.1 0.8M440.9 125.7l-0.1 0.8M440.4 128.5l-0.1 0.8M439.6 132.3l-0.1 0.8M437.1 122.4l-0.3 0.7M435.3 127.0l-0.3 0.7M434.2 129.0l-0.3 0.7M430.2 119.2l-0.5 0.6M428.2 121.6l-0.5 0.6M426.7 122.7l-0.5 0.6M427.5 109.7l-0.7 0.4M425.0 111.8l-0.7 0.4M422.7 113.2l-0.7 0.4M420.1 114.3l-0.7 0.4M417.3 115.0l-0.7 0.4M425.2 104.7l-0.8 0.1M421.1 105.7l-0.8 0.1M417.9 106.3l-0.8 0.1M412.4 106.9l-0.8 0.1M425.0 98.7l-0.8 -0.1M422.5 98.2l-0.8 -0.1M419.6 97.7l-0.8 -0.1M414.3 96.9l-0.8 -0.1M409.2 96.5l-0.8 -0.1M417.7 88.9l-0.7 -0.3M414.9 87.7l-0.7 -0.3M410.7 86.2l-0.7 -0.3M407.7 85.4l-0.7 -0.3M429.7 86.0l-0.6 -0.6M428.2 84.0l-0.6 -0.6M425.6 80.8l-0.6 -0.6M423.9 78.7l-0.6 -0.6M423.0 77.8l-0.6 -0.6M421.1 75.7l-0.6 -0.6M418.8 73.5l-0.6 -0.6M414.5 69.7l-0.6 -0.6M412.8 68.4l-0.6 -0.6M409.9 66.2l-0.6 -0.6M435.8 84.7l-0.4 -0.7M435.0 82.6l-0.4 -0.7M433.9 79.9l-0.4 -0.7M432.6 76.7l-0.4 -0.7M432.0 75.3l-0.4 -0.7M429.2 69.2l-0.4 -0.7M427.2 65.2l-0.4 -0.7M426.0 63.0l-0.4 -0.7M424.6 60.3l-0.4 -0.7M421.6 55.3l-0.4 -0.7M439.9 82.7l-0.2 -0.8M439.6 81.0l-0.2 -0.8M439.0 77.7l-0.2 -0.8M438.5 75.2l-0.2 -0.8M437.7 71.0l-0.2 -0.8M436.5 65.6l-0.2 -0.8M436.1 63.6l-0.2 -0.8M435.5 60.8l-0.2 -0.8M435.0 58.9l-0.2 -0.8M434.2 55.6l-0.2 -0.8M432.4 48.4l-0.2 -0.8M431.8 46.0l-0.2 -0.8M430.5 41.4l-0.2 -0.8M444.9 82.2l0.0 -0.8M444.9 80.2l0.0 -0.8M445.0 77.9l0.0 -0.8M445.1 74.7l0.0 -0.8M445.2 71.7l0.0 -0.8M445.3 69.2l0.0 -0.8M445.4 67.8l0.0 -0.8M445.5 65.0l0.0 -0.8M445.6 62.6l0.0 -0.8M445.7 59.7l0.0 -0.8M445.8 56.2l0.0 -0.8M445.9 54.8l0.0 -0.8M446.0 52.5l0.0 -0.8M446.1 49.4l0.0 -0.8M446.2 47.2l0.0 -0.8M446.4 43.8l0.0 -0.8M446.5 40.7l0.0 -0.8M446.6 38.6l0.0 -0.8M453.0 84.1l0.4 -0.7M453.4 83.0l0.4 -0.7M454.6 80.1l0.4 -0.7M455.7 77.8l0.4 -0.7M456.9 75.1l0.4 -0.7M457.9 72.9l0.4 -0.7M458.7 71.2l0.4 -0.7M460.0 68.4l0.4 -0.7M462.0 64.4l0.4 -0.7M463.1 62.2l0.4 -0.7M464.6 59.2l0.4 -0.7M465.9 56.8l0.4 -0.7M466.6 55.5l0.4 -0.7M467.8 53.3l0.4 -0.7M468.8 51.3l0.4 -0.7M470.0 49.3l0.4 -0.7M471.9 45.9l0.4 -0.7M472.7 44.6l0.4 -0.7M474.4 41.6l0.4 -0.7M475.3 40.1l0.4 -0.7M476.9 37.5l0.4 -0.7M477.8 36.1l0.4 -0.7M458.6 85.1l0.5 -0.6M461.7 81.2l0.5 -0.6M463.3 79.2l0.5 -0.6M464.5 77.6l0.5 -0.6M466.3 75.5l0.5 -0.6M469.5 71.7l0.5 -0.6M471.7 69.2l0.5 -0.6M473.3 67.4l0.5 -0.6M474.7 65.9l0.5 -0.6M477.8 62.5l0.5 -0.6M480.1 60.2l0.5 -0.6M482.1 58.1l0.5 -0.6M484.0 56.2l0.5 -0.6M485.4 54.9l0.5 -0.6M487.3 53.0l0.5 -0.6M489.0 51.3l0.5 -0.6M490.9 49.6l0.5 -0.6M493.2 47.5l0.5 -0.6M494.6 46.2l0.5 -0.6M461.1 91.7l0.7 -0.4M463.1 90.3l0.7 -0.4M465.4 88.8l0.7 -0.4M469.2 86.3l0.7 -0.4M471.6 84.8l0.7 -0.4M473.7 83.5l0.7 -0.4M475.1 82.7l0.7 -0.4M485.3 76.8l0.7 -0.4M486.4 76.1l0.7 -0.4M489.0 74.8l0.7 -0.4M491.0 73.7l0.7 -0.4M494.3 71.9l0.7 -0.4M496.2 71.0l0.7 -0.4M500.5 68.9l0.7 -0.4M502.4 67.9l0.7 -0.4M504.9 66.7l0.7 -0.4M507.4 65.6l0.7 -0.4M464.0 95.7l0.8 -0.2M469.7 93.8l0.8 -0.2M472.6 92.9l0.8 -0.2M475.0 92.2l0.8 -0.2M476.8 91.6l0.8 -0.2M479.6 90.8l0.8 -0.2M481.6 90.2l0.8 -0.2M487.1 88.6l0.8 -0.2M493.8 86.8l0.8 -0.2M496.4 86.1l0.8 -0.2M499.1 85.5l0.8 -0.2M500.6 85.1l0.8 -0.2M504.4 84.2l0.8 -0.2M506.9 83.6l0.8 -0.2M509.2 83.1l0.8 -0.2M511.8 82.5l0.8 -0.2" fill="none" stroke="#222" stroke-width="0.9" stroke-linecap="round"/>
<path d="M484.8 47.0l-0.1 0.1M475.2 40.8l-0.7 0.5M471.3 35.1l0.1 0.5M463.6 45.9l-0.3 -0.5M493.0 65.2l-0.6 -0.2M499.6 70.3l0.6 -0.4M465.0 36.4l-0.2 0.2M496.2 62.1l0.1 -0.5M465.4 35.1l-0.5 0.1M503.7 55.6l-0.2 -0.6M484.5 51.4l0.3 -0.5M485.1 45.6l0.3 -0.1M468.6 42.8l-0.2 0.0M484.2 58.9l0.3 -0.2M499.0 67.0l-0.6 0.1M493.6 52.9l-0.6 0.6M486.5 46.9l-0.3 -0.4M494.7 60.6l0.2 0.2M464.4 32.1l-0.4 0.6M455.5 33.2l0.2 -0.7M485.3 45.3l0.1 0.4M468.4 36.8l0.6 -0.1M473.7 44.8l0.6 -0.1M453.7 32.1l0.3 -0.6M459.3 33.9l0.2 -0.3M472.7 35.0l-0.1 0.5M497.9 48.9l0.4 -0.1M470.9 37.2l-0.1 0.2M481.1 44.9l-0.1 0.6M502.8 54.1l0.7 0.2M483.4 46.2l-0.4 -0.3M508.8 67.6l0.7 -0.6M466.5 34.8l-0.3 0.5M494.5 61.0l0.5 -0.5M480.0 38.2l-0.7 0.0M507.6 67.1l-0.6 0.6M497.2 63.8l-0.4 0.4M471.3 34.1l-0.2 0.2M461.9 36.4l-0.2 -0.0M510.9 71.9l-0.4 -0.4M458.0 51.8l-0.5 0.1M499.6 54.5l0.2 -0.7M508.7 77.0l-0.5 -0.6M503.7 92.5l0.0 -0.0M451.9 41.3l-0.4 -0.6M460.2 53.3l0.6 0.2M505.5 74.8l0.5 -0.6M493.7 50.8l0.6 -0.2M504.4 64.0l-0.3 -0.6M503.7 76.7l0.5 0.1M485.3 38.3l0.5 -0.1M502.2 95.2l-0.0 -0.6M472.1 51.7l0.4 -0.5M464.3 31.9l-0.4 -0.2M461.5 31.6l0.5 0.3M458.6 37.4l-0.7 -0.2M475.2 50.3l0.5 -0.6M505.8 88.6l-0.2 0.1M495.9 48.8l-0.3 0.6M487.9 44.4l0.0 -0.0M497.5 84.3l0.6 0.2M494.1 54.8l-0.4 0.2M474.3 39.9l0.4 0.6M478.3 36.9l-0.2 0.5M468.0 41.0l-0.2 -0.5M494.6 50.7l0.1 -0.4M499.4 55.2l-0.6 0.5M492.6 75.5l-0.3 -0.5M468.8 46.6l-0.2 -0.5M489.6 46.0l0.1 -0.4M459.2 36.0l-0.7 -0.1M452.7 31.0l0.5 0.5M510.8 87.8l-0.2 0.1M502.5 55.8l-0.5 -0.3M458.3 38.8l-0.1 0.5M494.3 44.3l0.2 0.5M469.8 37.8l-0.5 -0.4M487.6 39.4l0.1 -0.1M459.5 37.4l-0.5 -0.2M468.6 38.6l0.7 0.1M489.1 53.6l-0.2 -0.5M494.1 58.6l0.5 -0.2M489.4 51.2l-0.6 0.5M506.2 58.6l-0.3 0.2M476.6 33.6l0.1 -0.1M501.5 55.5l-0.3 0.3M488.5 41.1l0.3 0.5M492.5 53.7l-0.3 0.7M482.4 48.3l-0.0 -0.5M499.0 53.2l0.4 0.6M486.9 56.0l0.7 -0.5M495.6 45.3l0.3 0.4M501.7 58.7l-0.7 0.3M469.8 35.9l0.4 -0.6M487.3 58.5l-0.2 0.7M471.1 33.0l0.3 -0.1M502.9 64.2l-0.1 -0.2M498.1 67.2l-0.0 0.0M449.2 33.8l-0.3 0.0M480.7 48.0l-0.2 0.3M476.5 41.0l0.3 -0.1M444.5 41.7l-0.3 -0.3M509.8 75.6l0.2 0.4M495.9 63.6l0.2 -0.6M460.3 43.6l-0.0 0.4M493.9 42.8l0.5 -0.7M482.1 41.4l0.4 -0.2M434.4 40.2l-0.5 -0.7M496.9 56.6l-0.5 0.5M449.5 35.6l-0.6 0.2M492.5 60.4l-0.1 0.7M491.7 61.5l-0.3 -0.3M503.6 79.2l0.4 0.6M504.3 69.5l-0.3 0.0M511.0 69.2l0.3 0.3M493.2 42.7l0.1 0.1M463.9 33.5l0.5 0.6M499.6 64.1l0.6 -0.4M475.3 48.7l-0.6 0.4M452.9 33.9l-0.1 0.1M458.3 32.0l0.3 0.4M506.6 67.5l0.4 0.6M496.7 50.6l0.1 -0.3M502.8 80.7l0.1 0.5M487.2 38.2l-0.3 -0.2M489.3 55.0l0.7 0.7M502.2 63.1l0.6 -0.6M454.9 30.6l0.3 0.3M477.6 38.8l0.2 0.1M505.0 68.7l-0.2 0.3M483.8 47.8l-0.5 -0.0M498.1 49.7l-0.5 -0.1M457.1 34.4l0.1 -0.6M457.2 30.3l0.3 0.0M473.7 34.6l-0.5 -0.2M507.1 92.5l-0.2 -0.1M468.6 44.8l0.2 0.3M473.0 34.3l0.1 -0.1M508.2 71.4l0.4 -0.1M477.1 64.6l0.0 0.1M477.5 34.4l-0.4 -0.4M491.8 52.7l-0.3 0.1M483.5 58.6l0.5 0.0M486.7 48.2l0.2 -0.2M458.2 36.6l-0.5 -0.1M496.7 52.4l0.2 -0.2M490.6 42.5l0.1 0.1M506.1 74.4l-0.2 -0.5M478.6 45.5l0.4 -0.3M459.2 32.4l0.6 -0.1M508.6 63.6l0.5 0.6M505.3 61.2l-0.4 -0.0M501.1 77.7l0.2 -0.4M492.7 63.5l-0.0 0.4M493.8 48.8l-0.1 -0.2M502.1 77.9l-0.1 -0.2M485.3 53.5l0.0 0.6M488.6 41.1l0.5 -0.5M458.7 32.9l0.7 -0.4M483.8 36.1l-0.6 0.3M511.5 79.0l-0.7 -0.4M453.4 32.5l0.3 -0.3M463.5 34.6l0.3 0.4M454.7 36.2l0.6 0.3M492.0 65.0l0.0 -0.4M456.4 43.9l-0.6 0.5M500.9 65.4l-0.2 -0.2M477.8 34.3l0.5 0.5M491.1 54.2l0.6 0.3M488.6 44.8l0.1 -0.4M484.9 38.5l0.3 -0.5M494.4 51.5l0.2 -0.7M443.6 33.8l-0.6 -0.6M495.1 50.2l0.3 -0.5M461.8 52.2l-0.7 -0.0M459.7 32.7l0.7 0.5M467.3 33.1l-0.5 -0.3M478.7 41.2l0.4 0.3M456.6 42.5l0.2 -0.5M471.9 34.3l-0.4 -0.0M490.2 52.1l0.3 -0.4M479.0 34.8l0.4 -0.1M452.7 35.6l0.6 -0.1M476.1 49.8l-0.3 -0.6M473.1 47.9l0.3 0.7M496.4 47.1l0.6 0.7M505.6 67.3l-0.1 0.3M483.2 38.5l0.0 0.6M491.7 44.2l-0.3 -0.6M483.5 38.1l0.4 -0.2M481.2 47.1l-0.4 -0.1M470.2 34.0l-0.5 0.6M507.9 67.8l-0.4 -0.4M493.0 46.6l0.6 -0.0M445.3 36.5l-0.3 0.5M466.3 41.2l-0.6 -0.5M505.3 77.4l0.5 0.3M498.9 67.4l0.5 0.0M464.3 42.3l0.6 0.1M475.5 42.6l-0.5 0.5M478.4 41.4l0.3 -0.6M495.6 51.8l0.7 -0.4M502.0 65.5l0.2 -0.4M455.0 32.4l-0.6 -0.2M496.6 59.2l0.7 -0.1M495.2 52.3l-0.7 0.6M454.6 35.1l-0.1 0.6M484.1 46.1l0.4 0.3M480.1 38.8l0.5 0.6M460.9 31.3l0.3 0.2M483.0 36.3l-0.1 0.3M490.6 45.7l-0.1 -0.1M498.2 53.1l0.4 0.2M466.7 34.2l-0.6 -0.0M476.4 34.6l-0.3 -0.6M492.6 44.0l-0.5 0.6M446.3 41.3l0.6 0.4M464.1 63.3l-0.7 -0.6M502.3 59.1l-0.2 -0.2M468.2 40.3l-0.6 -0.0M494.9 50.3l0.5 0.2M503.6 84.4l-0.5 -0.6M512.3 77.2l-0.6 -0.1M493.1 42.1l0.1 0.3M451.0 41.2l0.6 -0.6M453.8 31.2l-0.2 -0.2M471.1 48.2l0.4 -0.3M480.1 47.9l-0.2 -0.0M511.0 74.0l0.1 -0.5M501.9 65.0l0.1 0.5M482.3 39.8l-0.1 0.6M493.7 45.4l0.5 0.3M502.3 80.3l-0.6 0.3M506.7 61.6l0.0 -0.5M509.3 67.1l-0.6 -0.1M501.6 55.7l0.6 -0.5M509.1 69.8l-0.7 0.3M497.7 80.8l-0.7 -0.6M501.2 60.3l-0.3 -0.5M488.2 39.4l-0.1 0.2M507.4 75.2l0.6 -0.0M471.4 43.5l-0.2 0.3M480.8 46.2l0.4 0.2M464.9 41.0l0.3 -0.5M496.4 47.5l0.4 0.5M487.1 58.1l0.1 0.0M498.8 60.5l0.1 -0.6M491.7 42.9l0.1 -0.6M509.0 66.1l0.3 -0.7M505.5 73.3l-0.4 -0.4M473.3 44.8l0.0 0.4M469.3 34.9l-0.1 0.6M445.9 47.7l-0.4 0.7M494.5 47.3l0.2 -0.6M475.3 33.9l0.4 -0.1M505.7 103.5l-0.2 0.7M492.4 42.8l-0.1 0.2M503.8 63.8l0.6 0.5M470.0 36.7l-0.4 -0.4M510.0 66.9l0.5 -0.4M500.1 63.4l0.6 -0.7M462.4 36.5l-0.1 -0.1M453.0 32.5l-0.2 -0.5M493.8 47.4l-0.2 0.2M485.3 44.2l-0.5 -0.2M475.5 41.6l0.3 0.1M470.3 32.5l-0.0 0.2M481.2 58.0l-0.4 0.3M491.2 42.3l0.1 -0.6M501.2 55.7l0.4 0.0M500.4 68.9l-0.6 -0.1M504.8 64.0l-0.4 -0.0M490.0 40.4l0.7 0.4M471.3 32.1l-0.1 -0.5M502.8 60.1l-0.6 -0.0M459.4 30.7l-0.5 0.1M478.8 38.4l-0.1 0.6M464.8 40.3l-0.6 -0.3M487.8 40.4l0.1 -0.4M465.6 32.0l0.2 0.5M499.0 65.6l0.4 -0.1M465.5 41.9l-0.3 -0.2M468.0 31.6l-0.2 0.7M472.3 33.7l-0.2 0.4M507.4 84.1l-0.2 -0.0M446.9 38.3l0.6 0.2M449.6 31.6l-0.6 0.5M488.6 48.3l0.3 -0.3M480.4 49.0l-0.7 0.2M494.0 70.5l0.5 -0.4M440.7 46.6l0.2 -0.3M494.0 72.6l0.3 0.7M470.0 31.9l-0.2 -0.5M490.4 53.7l-0.5 -0.3M503.1 58.4l0.2 -0.0M510.2 100.2l0.2 -0.3M501.6 55.3l-0.4 -0.2M470.7 48.4l-0.4 0.0M493.6 52.3l0.3 0.0M466.6 31.6l0.6 0.5M459.7 44.8l-0.5 0.6M511.8 80.0l-0.7 -0.1M483.3 38.7l-0.4 -0.6M468.1 36.7l-0.1 0.4M487.8 58.0l-0.2 0.3M471.7 32.6l-0.4 0.4M468.1 35.9l-0.6 -0.0M488.8 54.6l-0.7 0.2M486.3 47.4l0.4 0.1M469.0 43.9l0.5 0.7M482.8 36.3l0.5 -0.0M488.7 49.6l0.3 -0.5M474.8 33.6l-0.4 0.7M503.5 65.4l0.3 0.7M511.6 84.9l0.6 -0.3M501.2 80.5l0.5 -0.4M504.4 78.2l-0.4 0.1M490.7 47.4l-0.6 0.1M491.5 55.6l-0.3 0.7M494.0 55.4l-0.1 0.1M488.5 41.1l-0.0 0.6M505.3 66.2l-0.2 0.3M456.9 30.3l0.3 0.6M477.6 42.1l-0.7 0.5M496.2 57.0l-0.2 -0.5M483.0 41.0l-0.6 -0.5M483.8 48.2l0.5 0.3M463.9 38.5l0.4 0.6M510.0 77.7l0.5 -0.3M504.7 96.1l0.1 0.3M473.1 40.2l0.0 0.2M492.3 52.0l-0.1 0.1M504.4 82.6l-0.3 0.7M464.8 37.6l-0.5 -0.3M498.2 63.9l-0.6 0.4M495.3 50.2l-0.5 0.5M473.0 32.7l0.4 -0.0M478.2 45.2l-0.4 0.5M452.8 42.3l0.2 -0.1M446.5 32.1l0.0 0.7M464.4 30.8l-0.2 -0.2M485.9 50.3l-0.3 -0.6M497.2 59.2l-0.6 0.3M465.5 46.8l-0.2 0.5M463.7 38.3l-0.6 -0.4M494.2 44.0l-0.2 -0.2M447.5 45.9l-0.5 -0.4M462.4 34.9l0.1 0.1M501.2 71.6l0.1 -0.3M475.9 44.9l-0.2 0.3M498.8 48.0l-0.6 0.2M499.3 58.2l0.5 0.3M510.0 69.1l-0.2 0.2M492.3 66.0l0.0 -0.2M473.3 40.1l0.5 -0.1M502.1 79.2l0.6 -0.7M503.8 53.8l-0.2 -0.6M462.2 32.3l0.3 -0.0M490.6 56.5l0.1 -0.6M498.4 70.8l-0.5 0.1M473.4 33.2l-0.1 0.2M511.1 76.9l-0.1 0.0M492.2 41.8l-0.1 0.6M497.4 63.0l0.3 0.3M477.3 37.4l-0.1 0.3M495.8 54.2l0.3 -0.2M450.1 36.3l0.7 0.3M478.6 37.4l-0.2 0.4M468.5 33.5l-0.1 -0.0M484.2 56.9l-0.2 -0.1M476.8 47.4l-0.7 -0.6M483.8 47.8l-0.3 0.4M496.9 65.2l-0.1 0.1M462.5 31.9l-0.3 -0.6M462.0 32.5l-0.6 0.6M502.3 73.4l0.6 0.7M479.3 38.4l0.6 -0.4M510.6 89.0l-0.6 0.6M473.2 38.2l0.7 0.2M448.2 38.5l-0.2 0.3M459.8 37.4l-0.0 -0.2M481.7 39.6l0.4 -0.5M505.0 62.9l-0.3 -0.7M483.6 40.7l-0.2 0.1M487.0 63.4l-0.4 0.5M474.3 36.2l0.1 0.4M492.4 42.1l-0.3 -0.3M506.2 71.5l0.6 -0.1M496.6 65.9l0.1 -0.1M501.6 61.2l0.5 0.6M480.9 38.5l0.6 0.2M481.0 36.0l0.0 0.6M508.2 72.5l-0.3 0.3M492.4 44.7l0.1 -0.2M455.1 46.8l0.4 -0.2M509.5 78.1l0.2 -0.1M479.5 35.7l0.2 0.6M468.6 33.4l0.3 0.7M507.4 62.7l-0.3 -0.4M466.1 31.1l-0.2 -0.7M470.3 37.7l0.6 0.2M497.8 78.7l-0.1 -0.3M509.4 65.7l-0.0 -0.4M508.5 72.1l-0.6 0.6M510.4 70.8l-0.4 -0.7M491.0 51.4l0.3 -0.4M498.4 104.3l-0.4 -0.2M500.5 89.4l0.5 -0.3M472.4 48.7l-0.3 -0.2M492.8 42.4l-0.1 -0.6M499.1 70.4l0.4 0.1M492.9 54.1l-0.1 0.4M500.7 52.3l-0.3 -0.6M506.2 96.7l0.1 0.3M511.0 78.0l-0.7 0.5M451.9 48.5l-0.6 0.3M501.8 76.9l-0.1 0.3M497.0 69.4l-0.3 0.3M501.1 69.9l0.1 0.3M476.5 36.7l-0.2 -0.5M469.5 37.9l0.4 0.5M479.3 40.1l0.4 -0.5M489.7 42.5l-0.2 0.1M507.5 82.3l-0.2 0.1M496.6 56.8l-0.6 -0.4M501.3 64.7l0.3 -0.4M504.0 65.2l0.3 0.0M490.8 58.2l0.4 -0.4M508.2 68.0l0.3 0.0M476.4 49.3l0.3 -0.5M503.2 69.5l0.2 0.3M466.9 37.1l0.5 0.7M507.5 71.3l-0.4 0.6M506.2 79.7l-0.4 0.0M498.2 56.1l0.4 0.4M460.8 33.3l0.2 -0.5M477.3 34.1l-0.6 -0.7M456.0 32.1l-0.1 -0.5M471.0 35.8l-0.5 -0.5M498.5 51.7l-0.3 0.5M506.2 59.2l0.5 -0.1M501.5 71.1l-0.4 0.3M457.3 32.5l-0.2 0.5M469.5 46.7l-0.1 0.3M454.2 42.7l-0.6 0.5M483.1 51.0l-0.7 -0.7M491.8 71.9l0.1 -0.6M480.7 48.3l-0.2 0.6M512.5 78.3l0.2 -0.0M469.6 31.6l0.7 0.0M473.0 39.2l-0.5 0.4M481.8 38.2l-0.2 0.3M505.8 60.6l0.1 0.7M488.7 57.5l0.5 -0.7M501.9 55.6l0.7 0.6M500.4 52.0l0.6 0.7M486.2 51.2l0.1 -0.4M502.2 57.3l0.6 0.2M494.9 47.2l0.3 0.6M509.2 73.8l-0.5 -0.7M490.2 44.1l-0.1 -0.5M496.5 54.2l-0.3 -0.1M511.3 88.1l-0.1 -0.5M449.9 36.0l0.3 0.6M502.6 52.7l0.0 0.5M438.5 38.0l-0.1 0.4M461.3 36.5l0.1 0.4M479.3 39.0l0.3 0.1M459.5 35.1l-0.3 0.5M490.1 52.9l0.0 0.5M463.2 31.9l0.2 -0.7M491.2 40.9l-0.7 0.3M483.0 41.7l0.7 0.6M460.3 33.7l0.2 -0.6M479.3 50.3l0.1 0.2M475.6 33.2l0.3 0.1M494.9 69.4l-0.3 0.2M489.3 42.4l-0.3 -0.1M488.8 40.9l0.2 -0.4M509.2 79.9l-0.3 0.3M453.0 33.3l-0.6 0.5M511.6 81.1l-0.1 -0.6M492.4 51.3l0.5 0.1M485.6 37.7l-0.4 -0.0M498.7 56.7l0.3 0.0M496.8 58.2l0.3 0.2M498.0 48.9l-0.5 0.1M500.8 73.5l-0.5 -0.0M511.5 72.6l0.1 -0.5M492.5 43.3l-0.7 -0.4M499.3 52.8l-0.4 -0.7M492.6 57.8l-0.0 0.6M469.2 37.4l0.4 -0.3M505.7 58.3l-0.1 0.3M508.9 78.9l0.5 0.0M475.1 43.1l0.4 -0.0M503.0 57.0l-0.4 0.1M485.8 44.8l0.6 0.3M460.8 37.5l0.3 0.2M468.5 34.3l0.3 0.3M470.5 48.3l0.2 -0.2M498.4 61.8l0.3 -0.5M492.9 49.9l-0.3 -0.3" stroke="#222" stroke-width="0.85" stroke-linecap="round"/>
<circle cx="444.1" cy="101.4" r="16.6" fill="#fff"/>
<path d="M433.7 114.4L436.2 110.0M436.2 110.0L429.2 108.6M432.0 102.9L428.6 107.4M432.0 102.9L428.0 97.4M460.6 103.1L458.2 103.3M458.2 103.3L453.5 100.5M458.9 93.8L453.2 95.2M453.5 100.5L453.2 95.2M451.7 86.6L450.2 92.5M453.2 95.2L450.2 92.5M457.0 111.8L455.2 108.3M451.6 116.2L450.2 108.4M455.2 108.3L450.2 108.4M458.2 103.3L455.2 108.3M447.2 104.5L453.5 100.5M447.2 104.5L446.6 105.6M446.6 105.6L450.2 108.4M434.3 92.3L441.5 89.6M434.3 92.3L436.9 96.6M436.9 96.6L440.5 97.8M440.5 97.8L445.7 95.0M441.5 89.6L446.5 93.6M445.7 95.0L446.5 93.6M431.1 91.1L434.3 92.3M442.5 84.9L441.5 89.6M432.0 102.9L435.0 102.8M435.0 102.8L436.9 96.6M450.2 92.5L446.5 93.6M447.2 104.5L445.7 95.0M436.6 109.8L440.5 114.7M436.6 109.8L438.5 106.2M438.5 106.2L442.7 105.1M440.5 114.7L444.3 113.6M444.3 113.6L445.9 105.8M442.7 105.1L445.9 105.8M439.4 117.3L440.5 114.7M436.2 110.0L436.6 109.8M435.0 102.8L438.5 106.2M440.5 97.8L442.7 105.1M448.5 117.4L444.3 113.6M446.6 105.6L445.9 105.8" fill="none" stroke="#111" stroke-width="1.8" stroke-linecap="round"/>
<ellipse cx="444.1" cy="101.4" rx="16.6" ry="16.200000000000003" fill="none" stroke="#111" stroke-width="2.6"/>
<path d="M600.0 36.5C604.7 36.5 611.6 36.1 617.9 37.0C624.2 37.9 632.8 39.8 637.8 41.9C642.8 44.0 644.7 46.4 647.7 49.9C650.7 53.4 653.6 57.8 655.7 62.8C657.9 67.8 659.6 74.8 660.6 79.7C661.6 84.6 662.0 87.8 661.6 92.0C661.2 96.2 660.5 100.9 658.5 105.0C656.5 109.1 653.5 113.2 649.7 116.8C645.9 120.4 640.8 123.8 635.8 126.7C630.8 129.6 626.2 132.8 619.9 134.2C613.6 135.6 606.5 134.8 598.0 135.0C589.5 135.2 575.3 135.8 568.8 135.1C562.3 134.4 562.2 133.3 558.9 130.7C555.6 128.1 551.7 123.5 548.9 119.7C546.1 115.9 543.6 111.6 542.0 107.8C540.4 104.0 539.3 101.2 539.0 96.9C538.7 92.6 539.6 86.2 540.0 82.0C540.4 77.8 540.5 74.9 541.5 71.7C542.5 68.5 543.8 66.6 545.9 62.8C548.0 59.0 550.9 52.5 553.9 48.9C556.9 45.2 560.8 42.6 563.8 40.9C566.8 39.2 567.5 39.5 571.8 38.9C576.1 38.2 585.0 37.4 589.7 37.0C594.4 36.6 595.3 36.5 600.0 36.5Z" fill="#fff" stroke="#111" stroke-width="1.1"/>
<path d="M570.9 45.5L572.1 45.9M580.7 48.8L583.0 49.3M586.4 49.9L587.3 50.1M589.7 50.5L591.6 50.9M594.8 51.7L595.6 51.9M604.5 52.8L606.1 52.9M609.0 53.2L610.7 53.3M612.8 53.3L613.8 53.4M617.8 53.7L620.3 53.8M622.2 54.1L624.2 54.1M626.6 53.8L628.7 53.8M631.0 54.2L632.5 54.3M649.9 54.7L651.5 54.7M568.4 48.5L569.4 48.9M572.4 50.1L574.6 50.9M578.0 52.1L579.6 52.7M581.3 53.3L582.8 53.8M593.8 56.2L595.2 56.5M603.0 58.5L603.8 58.6M607.4 58.8L609.8 58.9M611.5 59.2L613.7 59.3M626.0 59.1L627.4 59.2M630.0 59.4L631.7 59.5M651.7 59.9L654.2 60.0M658.8 59.9L659.9 60.0M575.2 54.9L576.7 55.6M578.0 56.5L579.9 57.4M581.8 58.0L584.1 58.9M589.7 60.4L592.2 60.9M594.9 61.2L595.9 61.5M598.9 62.7L600.8 63.1M606.3 63.7L607.7 63.8M611.5 64.0L612.4 64.0M614.1 64.2L615.7 64.2M617.2 64.4L618.7 64.5M623.8 64.5L625.8 64.6M635.1 64.7L637.2 64.8M639.2 64.7L641.2 64.7M644.1 64.6L645.5 64.7M648.7 65.1L650.5 65.2M653.5 65.0L655.2 65.0M658.7 64.8L660.0 64.8M585.0 62.8L586.0 63.2M588.0 64.2L589.0 64.6M600.1 67.2L601.2 67.4M616.3 69.5L617.5 69.5M635.8 69.7L636.8 69.7M642.1 70.1L643.4 70.1M645.3 70.4L646.2 70.4M648.0 70.5L650.6 70.5M658.2 70.7L660.3 70.8M576.2 62.2L578.4 63.3M579.7 64.0L582.0 65.1M583.3 65.7L585.3 66.7M587.3 67.6L588.9 68.4M595.4 71.4L596.1 71.6M602.7 72.8L604.9 73.4M612.4 75.4L614.0 75.4M616.9 75.3L617.8 75.3M620.4 74.7L622.2 74.8M625.1 75.2L626.7 75.3M628.8 75.1L630.2 75.1M637.2 75.8L639.0 75.8M641.4 75.5L643.5 75.5M650.0 75.7L652.3 75.7M658.2 75.8L659.1 75.8M578.6 67.1L579.6 67.6M585.0 70.6L586.3 71.3M589.0 72.8L591.1 73.8M592.4 74.7L593.8 75.4M599.5 76.4L601.0 76.8M602.8 77.6L604.0 77.9M607.5 78.8L609.2 79.3M611.8 79.9L614.2 80.4M616.0 80.1L618.2 80.1M623.2 80.7L624.3 80.7M627.5 80.6L628.3 80.7M631.1 81.0L631.9 81.0M637.7 80.9L639.9 81.0M646.8 80.9L647.8 80.9M651.2 80.7L653.6 80.8M656.1 80.9L658.3 80.9M580.2 71.9L582.3 73.2M587.8 75.5L589.8 76.7M591.4 77.4L592.2 77.8M597.9 80.8L599.1 81.2M609.3 84.2L610.7 84.6M612.0 85.0L613.6 85.4M616.3 86.0L617.2 86.0M623.0 86.6L624.4 86.7M631.4 86.1L632.4 86.1M635.5 86.0L637.5 86.0M639.6 85.9L642.0 85.9M643.9 86.0L645.3 86.0M646.8 86.6L648.9 86.7M652.2 86.1L654.5 86.1M656.6 86.6L658.5 86.6M583.7 76.4L585.1 77.3M589.2 79.8L590.8 80.8M593.7 82.4L595.7 83.7M597.8 85.3L599.8 86.0M603.4 86.4L605.6 87.1M607.9 88.1L610.3 88.8M611.6 89.7L613.3 90.2M616.4 90.8L618.4 91.4M620.4 91.8L622.3 91.8M623.7 91.6L626.2 91.6M628.3 91.5L630.0 91.5M643.9 91.2L644.8 91.2M652.4 91.5L654.7 91.5M658.2 91.3L659.9 91.3M591.1 122.0L593.5 121.5M597.0 120.5L599.4 120.1M634.7 118.1L636.3 118.1M637.6 117.8L640.2 117.8M651.3 117.2L652.9 117.1M574.8 123.8L575.7 123.4M578.2 122.0L579.0 121.7M587.4 118.4L589.8 117.6M590.7 117.2L591.6 117.0M598.7 115.8L599.9 115.6M606.2 114.1L607.2 113.9M609.0 113.2L610.8 113.1M612.8 112.9L613.8 112.9M628.6 112.6L629.4 112.5M631.1 112.3L632.9 112.2M641.6 112.4L644.1 112.3M652.9 111.7L655.2 111.7M576.8 118.2L578.8 117.4M595.6 111.8L597.4 111.4M600.0 110.3L601.3 110.0M603.0 109.7L605.5 109.1M624.6 107.0L626.2 107.0M632.0 107.1L632.8 107.1M657.3 106.1L659.5 106.0M583.0 112.1L583.7 111.8M587.9 109.5L589.7 108.7M598.0 105.9L599.2 105.6M600.9 105.2L603.0 104.7M605.8 104.2L607.0 103.9M613.9 102.1L615.6 101.9M618.9 102.2L621.4 102.1M634.2 101.2L636.1 101.2M639.6 101.7L642.0 101.6M646.4 101.0L648.0 101.0M649.8 101.2L650.9 101.2M657.4 101.5L658.3 101.4M582.1 109.4L583.8 108.6M594.2 102.6L596.4 101.6M599.6 100.7L601.2 100.3M604.4 99.5L606.8 98.9M609.9 97.7L612.3 97.1M614.0 96.9L615.7 96.4M617.6 96.2L619.4 96.2M621.4 96.2L623.0 96.2M624.0 96.4L626.6 96.3M628.3 96.0L630.5 95.9M652.5 95.8L654.1 95.7M655.8 95.5L656.7 95.5M584.7 104.4L585.5 104.0M587.3 102.4L588.3 101.8M598.9 96.3L601.3 95.5M602.3 95.2L604.7 94.6M606.9 94.0L608.4 93.6M611.3 92.7L612.5 92.4M619.2 90.7L621.5 90.5M624.9 89.7L626.5 89.7M629.4 90.5L630.9 90.5M641.5 90.3L642.9 90.3M649.0 89.8L650.0 89.8M586.9 99.4L588.3 98.6M590.6 97.4L592.2 96.4M607.1 89.1L608.7 88.6M610.2 88.5L611.7 88.1M648.7 84.9L650.3 84.9M655.1 84.7L657.1 84.7M544.2 71.5L544.0 72.7M543.3 80.7L543.2 82.1M542.7 83.4L542.7 84.2M543.0 85.4L543.0 86.5M543.2 89.1L543.2 90.2M543.5 99.0L543.5 100.1M543.8 101.8L543.9 102.9M544.1 104.7L544.1 105.3M547.0 69.4L546.9 70.6M546.9 72.2L546.8 73.4M545.2 88.5L545.3 89.8M545.1 91.0L545.2 92.5M545.8 95.6L545.9 97.2M549.3 70.9L549.2 71.8M549.2 73.9L549.0 75.4M548.5 78.1L548.4 78.8M547.8 84.4L547.8 86.1M548.5 91.2L548.7 92.7M549.2 102.3L549.3 103.1M552.2 76.7L551.9 78.2M551.2 79.4L551.1 80.1M550.1 85.0L550.2 86.3M550.5 88.9L550.6 90.3M551.1 92.5L551.2 93.7" fill="none" stroke="#222" stroke-width="0.85" stroke-linecap="round"/>
<path d="M633.6 44.3l0.9 0.4M613.0 37.6l0.6 0.4M596.7 37.6l1.3 -0.1M593.7 37.5l1.6 -0.3M621.2 45.0l1.4 0.3M596.2 39.5l1.5 -0.4M587.9 51.6l0.6 0.2M622.2 40.6l0.5 -0.3M602.4 49.3l1.3 0.2M614.4 38.3l1.1 0.1M598.1 39.0l1.6 -0.0M612.0 43.7l1.4 0.1M624.1 41.9l1.6 0.0M629.7 43.2l0.6 -0.0M620.8 45.4l0.4 0.0M609.4 39.5l0.7 0.2M605.7 37.4l0.4 0.1M588.4 37.7l0.4 0.1M621.4 42.3l1.5 0.4M589.5 39.1l1.1 0.3M614.7 43.3l1.5 0.1M615.6 44.2l0.4 0.2M605.5 37.7l0.5 -0.2M626.5 48.4l1.3 0.2M627.4 40.1l0.4 -0.4M599.4 40.8l0.3 -0.4M604.8 39.6l0.7 -0.4M625.1 42.0l1.4 0.2M588.9 39.0l1.3 0.3M632.5 42.1l0.9 0.2M644.4 48.4l0.3 0.0M630.1 43.7l1.0 0.4M608.6 39.6l0.6 0.2M587.8 37.4l1.0 -0.3M625.2 42.6l1.4 0.2M628.0 51.6l1.2 0.1M611.9 50.8l0.7 0.2M642.3 49.2l0.9 -0.2M591.1 42.8l1.2 -0.3M589.4 42.3l1.1 -0.4M589.6 41.8l0.5 0.2M598.2 44.2l1.0 -0.0M588.0 39.5l0.4 -0.3M601.9 38.6l1.6 -0.4M598.9 48.3l0.4 0.2M634.7 42.7l1.5 -0.0M587.2 41.6l1.3 0.2M626.2 39.9l1.0 0.4M618.2 38.9l1.3 0.2M635.7 43.6l0.9 0.4M616.6 39.9l1.4 0.2M621.2 40.5l0.5 -0.3M627.3 45.7l1.2 -0.2M609.2 39.8l0.7 0.2M628.8 42.3l0.5 -0.2M623.0 39.1l0.5 0.1M624.9 43.8l0.9 0.3M625.8 40.6l0.8 -0.2M600.7 47.4l0.5 0.0M615.5 37.6l0.7 -0.0M621.4 46.2l0.5 -0.1M617.5 38.5l0.4 -0.3M592.3 47.7l1.2 0.4M640.5 50.7l1.0 0.0M625.7 51.9l0.8 -0.0M622.4 40.3l1.5 -0.2M646.5 49.1l1.3 -0.2M645.1 51.9l1.4 -0.2M641.7 48.1l0.8 0.1M599.9 41.7l0.3 0.2M615.7 39.8l1.0 0.4M606.0 38.6l1.6 -0.1M608.1 39.7l0.4 0.3M601.9 40.9l1.4 -0.2M603.1 49.7l1.4 0.2M617.6 46.1l1.5 0.1M602.9 50.5l0.4 0.2M614.3 47.7l0.4 -0.0M625.6 52.0l1.5 -0.1M633.4 44.7l0.4 0.2M648.0 50.0l0.7 0.2M608.3 39.0l1.5 -0.4M586.8 39.7l0.8 -0.3M633.4 45.0l1.1 -0.1M612.6 42.3l0.8 0.2M592.4 43.9l1.5 0.3M593.6 49.3l0.8 -0.2M609.9 37.8l0.5 0.3M591.5 38.2l0.3 -0.4M622.9 42.4l1.1 0.1M605.7 47.5l1.3 -0.3M591.9 42.3l1.1 -0.3M597.7 38.0l0.7 0.0M624.9 45.5l0.8 -0.3M592.7 41.7l1.0 -0.4M607.4 39.5l0.7 0.2M628.9 45.5l0.4 0.3M608.3 41.9l0.6 -0.2M591.6 38.3l0.6 -0.0M607.1 39.7l0.9 -0.1M618.7 46.8l1.0 -0.1M620.8 44.6l0.6 0.4M595.5 44.3l1.0 -0.4M637.4 50.0l1.3 0.3M649.7 51.8l0.4 0.2M587.3 37.8l0.4 0.2M615.0 37.6l0.6 0.1M620.3 39.8l1.5 -0.4M622.0 44.4l0.7 -0.3M606.0 43.8l1.6 -0.0M601.3 42.5l1.6 0.2M614.1 39.5l0.8 -0.4M600.5 49.2l0.5 -0.3M648.3 51.1l1.3 -0.1M587.9 37.7l1.4 0.3M641.3 46.2l1.3 -0.1M611.9 40.3l1.0 0.4M592.0 37.7l1.5 -0.1M596.5 46.1l0.8 -0.3M589.5 46.7l0.9 -0.1M633.9 45.1l1.3 0.3M619.7 49.2l1.0 0.3M585.6 45.0l1.2 0.0M608.8 38.2l1.0 -0.1M601.6 43.2l1.2 0.0M586.3 39.4l0.6 -0.2M599.5 41.7l1.5 0.1M616.3 45.8l1.2 -0.2M604.2 44.6l0.5 -0.1M608.6 41.5l1.0 0.0M613.6 39.2l0.9 -0.3M598.4 39.7l1.3 0.0M604.2 40.6l1.0 -0.2M596.9 40.1l0.4 -0.1M619.5 43.5l1.4 0.4M614.1 46.6l1.3 -0.1M616.2 39.5l0.5 0.2M599.6 39.1l1.2 -0.3M613.2 38.3l0.3 -0.1M602.8 37.6l0.9 -0.3M619.7 45.3l0.4 0.3M630.2 40.9l1.5 -0.1M593.9 49.9l0.3 -0.0M611.2 47.3l1.4 -0.4M587.9 37.4l1.0 0.1M608.5 40.8l1.0 -0.2M609.9 49.6l1.2 -0.4" stroke="#111" stroke-width="0.9" stroke-linecap="round"/>
<path d="M551.3 75.8 C560 78.5 568 81 576.6 83.1 C585 84 600 84.4 661.5 84.2 L661.5 90.8 C630 90.6 600 89.9 590.2 90.8 C582 92 576 93.5 574.8 93.9 C566 97 560 100 552.2 103 C552.8 94 552.5 84 551.3 75.8Z" fill="#555"/>
<clipPath id="plateclip"><path d="M551.3 75.8 C560 78.5 568 81 576.6 83.1 C585 84 600 84.4 661.5 84.2 L661.5 90.8 C630 90.6 600 89.9 590.2 90.8 C582 92 576 93.5 574.8 93.9 C566 97 560 100 552.2 103 C552.8 94 552.5 84 551.3 75.8Z"/></clipPath>
<path d="M587.7 98.0l1.8 -0.4M632.7 77.5l1.3 -0.3M594.3 80.5l0.8 0.2M615.0 79.2l1.0 0.0M626.9 99.4l0.6 -0.4M566.8 85.2l1.8 0.1M628.9 94.2l1.2 -0.3M573.5 90.3l2.0 0.3M638.8 85.5l1.4 0.4M613.6 78.3l2.1 -0.0M631.9 79.7l1.3 0.4M590.8 101.5l0.6 -0.2M656.4 90.4l0.8 0.3M645.0 90.1l1.4 -0.1M592.2 84.8l1.1 -0.3M565.0 95.0l0.6 0.5M615.7 97.3l0.6 -0.1M629.8 83.7l1.4 0.3M639.7 91.0l1.2 -0.2M648.6 86.1l1.8 0.4M589.5 87.0l1.9 -0.3M635.1 95.8l0.5 0.0M563.2 95.3l0.8 0.4M591.9 79.2l0.7 -0.0M594.8 95.2l2.0 -0.1M647.9 94.8l1.8 -0.4M610.2 99.0l1.3 0.2M615.6 93.7l0.9 -0.2M645.4 97.3l2.1 -0.3M616.8 79.4l1.4 -0.1M638.2 85.2l1.0 -0.4M577.1 84.5l0.5 0.1M643.6 99.6l0.6 -0.4M583.7 78.3l1.9 -0.4M594.3 86.5l0.6 -0.4M566.4 97.8l1.8 -0.2M575.1 96.6l0.9 -0.1M652.1 98.7l0.7 -0.5M564.8 89.0l1.6 0.3M606.4 97.8l1.7 -0.5M612.7 83.0l2.1 -0.0M581.2 90.3l1.2 -0.5M631.1 77.2l1.3 -0.1M601.9 81.5l1.7 0.2M573.1 83.2l2.0 -0.1M633.1 93.7l2.1 0.2M649.5 77.3l1.1 -0.4M566.4 96.0l1.1 0.4M625.2 87.6l0.6 -0.3M653.5 91.8l1.0 0.2M649.7 88.3l0.4 -0.5M570.0 81.6l1.3 0.3M643.4 94.5l0.6 0.1M585.5 98.8l2.1 0.2M633.8 84.4l2.0 0.5M600.9 101.7l1.4 -0.2M611.2 85.1l2.1 -0.4M578.9 85.4l1.9 -0.4M653.2 80.8l1.3 0.4M597.6 94.0l1.6 0.0M591.4 86.6l1.6 0.2M646.6 98.2l1.4 0.5M611.0 100.4l1.6 -0.1M570.1 97.8l0.7 -0.0M661.0 82.4l2.1 0.3M581.4 95.2l1.5 0.3M559.9 81.9l1.3 -0.3M623.3 82.9l1.8 -0.4M571.1 81.7l1.9 -0.3M655.4 88.3l2.0 0.1M563.6 100.1l2.0 0.3M605.9 94.3l0.7 0.1M623.4 88.9l1.6 0.2M560.6 96.4l2.2 0.2M595.6 82.6l0.9 -0.2M632.4 97.8l1.7 -0.4M590.1 94.5l1.3 -0.0M618.5 78.6l2.0 -0.4M585.9 90.3l0.9 0.1M571.9 101.1l1.6 0.0M565.1 86.3l1.1 -0.4M659.6 96.0l0.6 0.5M649.3 99.2l1.3 0.3M558.1 79.8l0.4 0.1M582.0 92.4l1.0 0.3M625.3 91.5l0.8 0.1M562.4 99.7l1.2 -0.4M611.0 95.0l0.4 0.4M556.7 79.7l1.9 -0.1M564.6 85.5l1.7 -0.3M651.5 84.2l1.6 -0.2M655.8 81.6l0.6 -0.2M612.2 80.1l1.9 -0.1M568.0 86.6l0.5 0.1M615.6 94.1l0.4 -0.4M605.4 79.0l0.8 -0.2M634.9 87.6l1.2 -0.0M614.2 88.2l2.2 -0.0M630.0 79.3l0.9 -0.1M597.2 88.9l0.7 0.2M649.3 81.6l1.9 0.4M618.4 78.7l1.2 -0.3M617.6 91.1l1.0 -0.4M623.5 80.8l0.8 -0.1M577.7 85.6l0.6 0.4M640.5 78.8l1.2 -0.3M610.5 100.4l2.0 -0.1M600.6 86.0l2.1 -0.4M581.8 87.0l2.0 0.2M614.6 92.1l1.4 -0.5M583.2 86.3l1.4 0.2M655.3 101.7l0.8 0.3M564.4 80.2l1.9 0.0M557.4 89.1l2.1 0.2M649.6 89.6l0.8 -0.4M631.6 86.1l1.7 0.5M656.3 100.8l1.3 0.3M656.7 93.7l1.7 0.0M605.5 99.3l0.4 -0.3M573.0 91.1l0.6 -0.2M607.0 98.0l1.5 -0.4M659.4 98.2l1.8 0.1M613.7 84.7l2.0 -0.3M590.1 99.5l1.5 -0.4M614.0 100.0l1.2 0.3M621.0 91.9l0.5 0.4M576.4 99.1l1.8 -0.1M577.2 95.4l1.1 0.0M644.6 100.6l1.2 -0.2M648.3 96.5l1.0 -0.1M585.2 82.1l0.8 -0.0M570.6 77.7l0.8 -0.0M609.7 93.2l1.3 0.2M593.8 100.1l1.6 0.3M588.4 81.7l0.7 -0.3M563.6 87.8l1.9 0.2M566.0 79.4l0.5 -0.1M601.5 87.4l2.1 0.1M655.1 99.2l1.9 -0.5M654.9 89.5l2.1 -0.2M607.0 94.2l0.9 0.0M587.8 98.0l0.9 0.2M598.7 79.3l1.7 0.1M573.4 93.9l1.7 -0.3M556.8 93.4l1.7 0.2M591.0 89.1l1.7 -0.3M575.8 81.3l0.6 -0.2M618.7 100.2l1.4 -0.2M602.9 79.0l1.4 -0.4M648.8 85.9l2.1 -0.3M614.1 91.8l1.1 -0.0M591.9 95.6l0.7 -0.3M603.5 84.0l0.9 -0.3M559.0 93.7l1.6 0.0M626.6 94.1l2.0 -0.4M609.9 80.2l1.8 0.0M558.3 98.7l2.1 -0.4M559.0 99.5l2.0 -0.1M590.4 100.5l1.7 0.4M571.6 87.0l1.6 0.5M635.8 82.3l2.2 0.4M607.3 83.9l1.4 0.4M613.3 77.9l1.6 -0.3M625.2 79.5l1.4 0.3M597.5 89.7l1.8 0.2M654.4 99.5l0.6 0.2M647.9 98.1l0.6 0.1M660.5 89.1l2.0 0.5M637.8 89.4l0.5 0.5M661.0 84.8l2.1 0.3M595.6 97.6l0.9 -0.2M610.5 83.4l1.9 0.0M615.7 93.5l0.6 0.3M604.5 82.7l1.9 -0.4M623.6 79.2l1.2 0.3M618.2 83.5l0.8 0.5M596.3 82.6l0.7 -0.3M593.3 88.1l2.0 0.4M629.7 83.6l2.0 -0.3M623.4 101.9l2.1 0.4M612.7 79.4l2.0 0.1M572.9 99.4l0.4 -0.0M557.7 84.4l1.9 0.3M631.7 92.2l0.7 0.3M573.0 79.3l0.5 0.1M581.4 79.7l1.5 -0.3M569.0 80.7l0.6 0.2M636.0 97.6l1.5 0.1M608.3 81.2l0.5 -0.4M568.8 95.0l1.2 0.3M661.2 79.0l2.2 -0.4M595.8 89.7l0.8 0.4M589.5 77.0l2.1 -0.0M594.2 82.2l1.9 -0.4M563.5 78.7l0.9 0.2M558.8 88.4l0.5 0.1M605.3 92.4l0.9 -0.0M624.1 99.8l2.1 0.1M571.8 87.8l1.5 -0.0M571.4 95.7l0.9 0.1M630.3 95.7l1.3 0.3M649.1 80.1l1.4 0.4M647.7 98.3l1.2 0.1M632.2 101.0l0.9 0.2M569.5 99.5l1.6 -0.2M572.5 83.8l0.5 -0.3M613.7 94.3l1.1 -0.3M591.0 86.2l1.3 0.5M647.6 88.2l1.6 -0.2M591.8 96.3l1.0 -0.2M584.8 84.9l1.6 0.4M618.4 82.7l2.0 0.4M573.6 78.3l0.6 0.3M622.5 82.3l1.9 -0.3M578.2 98.0l1.0 0.4M634.1 91.7l1.8 -0.1M612.2 90.5l2.1 -0.4M590.2 78.2l1.9 0.3M574.5 79.4l1.3 0.1M655.6 78.2l1.6 -0.2M651.8 88.8l1.8 -0.0M572.1 93.8l1.3 -0.1M599.5 80.6l1.6 -0.2M596.9 84.1l1.1 0.2M582.7 84.3l0.5 -0.1M618.9 96.2l1.6 0.4M600.9 83.9l1.5 -0.2M653.3 95.1l2.2 -0.3M579.1 92.9l1.2 -0.3M580.4 84.7l1.1 0.0M618.7 101.4l1.3 -0.2M556.8 88.3l1.8 0.1M565.1 92.7l0.9 0.4M633.7 95.8l1.6 -0.5M642.0 79.6l0.4 -0.5M584.7 100.9l1.1 -0.1M590.4 78.6l1.3 0.5M640.1 101.4l0.6 -0.2M612.1 77.4l0.5 -0.1M597.2 79.0l1.5 0.3M580.0 96.6l2.1 0.3M567.3 81.8l1.8 0.3M565.5 84.2l0.9 0.4M656.6 82.6l1.0 -0.4M559.4 101.0l1.5 -0.3M612.6 85.5l2.1 0.2M606.8 89.5l0.5 -0.4M595.8 79.4l1.6 0.2M575.5 87.0l1.8 -0.5M574.1 78.0l1.2 0.4M585.3 96.4l1.3 0.0M642.1 97.3l0.8 0.1M625.0 81.3l1.2 -0.5M602.7 96.9l0.7 0.2M569.6 87.6l1.7 -0.1M613.8 90.5l1.9 0.1M574.2 82.4l0.9 0.3M629.6 99.1l1.6 0.0M608.5 101.1l1.3 0.0M639.7 80.3l0.9 0.3M574.9 81.8l0.8 0.4M660.6 80.3l1.1 -0.2M588.4 83.8l1.5 0.2M568.1 77.0l0.7 0.1M632.0 98.8l1.3 -0.5M614.9 98.3l1.2 0.5M648.3 83.4l2.0 -0.4M633.8 81.8l0.5 -0.3M620.0 101.0l0.8 0.3M596.1 79.9l1.9 -0.2M563.4 89.3l1.5 0.3M643.1 86.3l2.1 0.3M590.3 79.3l1.6 -0.3M616.9 96.9l0.7 -0.1M595.1 90.7l1.2 -0.2M625.0 89.1l1.8 -0.4M657.4 79.6l0.7 0.3M634.7 98.2l1.7 -0.1M620.2 84.0l1.5 0.2M600.8 90.2l1.2 0.4M619.7 87.0l0.9 0.3M557.9 86.4l0.9 -0.1M625.0 96.7l1.8 -0.4M576.3 84.9l1.8 0.5M560.8 97.2l1.8 0.1M659.5 92.6l1.6 0.1M562.7 88.8l0.9 -0.3M581.0 77.6l1.3 0.3M630.1 85.9l1.3 0.5M596.1 98.1l1.1 -0.4M617.4 85.2l0.8 0.1M642.8 94.2l2.1 -0.4M564.6 101.2l1.5 -0.0M634.6 92.3l1.3 -0.0M563.5 83.0l1.3 0.4M613.7 92.9l0.5 -0.4M569.4 100.3l1.1 0.3M661.2 101.0l2.2 0.4M570.7 87.6l1.6 -0.2M572.3 84.2l0.6 -0.4M605.8 77.5l0.9 0.4M617.4 90.5l1.9 -0.3M598.5 101.9l0.5 -0.0M622.9 86.6l1.6 -0.5M642.7 86.7l1.3 -0.2M604.4 78.2l0.5 -0.1M644.5 101.3l0.4 -0.0M622.5 86.2l0.8 0.3M604.7 91.0l0.9 0.4M571.9 79.7l1.1 0.5M613.9 79.2l0.9 0.4M567.8 83.8l1.1 0.0M589.6 88.7l1.1 -0.3M559.6 82.3l0.9 0.1M652.4 82.2l0.5 0.3M568.0 86.2l1.4 -0.3M587.8 83.6l1.2 -0.2M634.3 91.6l1.8 0.5M562.8 80.4l0.8 -0.2M562.9 89.4l0.8 0.2M582.3 85.7l0.8 -0.3M573.6 98.2l1.8 0.4M620.8 81.4l1.0 -0.5M635.4 77.9l0.9 0.0M631.5 86.0l0.9 0.4M600.2 99.5l0.7 -0.3M594.6 87.1l0.6 0.1M613.0 89.0l1.2 -0.3M565.0 79.2l1.5 -0.2M570.5 100.2l2.0 0.4M658.4 96.8l2.0 0.4M608.5 89.0l0.7 0.0M613.2 78.6l1.7 -0.4M606.9 94.9l0.5 -0.4M641.7 88.0l2.2 0.3M599.5 91.6l0.4 0.0M660.5 77.0l0.9 -0.4M560.1 96.5l1.4 -0.2M646.0 85.1l1.8 -0.5M651.5 86.8l1.7 -0.3M601.6 98.6l0.7 0.5M641.0 90.5l1.8 0.5M635.3 93.4l0.9 0.4M603.5 95.7l0.5 -0.0M579.4 83.0l0.7 -0.2M655.7 96.8l1.5 0.1M591.8 90.1l0.9 -0.1M609.4 80.3l2.2 -0.3M590.1 83.2l1.3 0.3M639.1 79.9l1.9 -0.2M638.9 81.9l1.1 -0.3M588.2 85.7l1.7 0.1M612.8 94.9l0.9 0.4M623.8 89.5l0.9 0.4M579.8 97.7l1.3 0.1M652.7 84.3l1.3 -0.4M613.4 95.7l0.6 0.2M589.5 83.9l1.7 0.2M566.5 96.3l0.7 0.4M570.2 95.5l0.8 0.0M618.4 89.1l1.3 0.4M603.5 93.0l0.8 -0.3M659.0 84.5l1.7 -0.2M627.7 100.5l0.8 -0.4M655.8 90.3l1.5 0.3M645.3 93.3l1.0 0.3M625.6 83.9l0.6 0.1M615.7 87.6l0.9 0.2M659.5 84.5l1.3 0.5M611.4 99.1l0.9 -0.1M604.4 82.7l0.6 0.4M577.3 86.3l0.7 0.4M642.6 86.4l0.8 -0.3M562.4 85.2l1.6 -0.2M602.6 98.7l1.4 0.1M575.2 83.1l1.0 -0.2M625.0 84.5l1.1 0.0M559.0 91.1l2.0 -0.0M594.8 97.8l0.8 -0.5M623.7 88.2l0.9 -0.2M591.8 90.3l1.3 0.1M607.3 96.7l2.1 0.4M601.5 102.0l2.0 -0.1M593.4 97.5l1.6 -0.3M653.2 82.9l1.0 0.4M605.3 93.4l1.1 -0.2M605.7 100.6l1.1 -0.2M567.7 90.7l1.2 0.5M659.3 100.0l2.0 0.3M635.9 79.5l1.0 0.0M646.7 101.2l2.0 -0.3M616.3 98.2l1.0 -0.1M647.1 90.1l1.0 -0.3M618.6 81.3l0.8 -0.0M590.4 90.2l0.5 0.5M631.4 84.9l2.0 -0.4M611.1 86.1l0.4 0.2M612.8 92.8l2.0 -0.4M571.7 96.4l0.5 -0.0M559.0 77.9l0.5 0.5M645.9 97.1l1.1 0.3M557.9 98.6l1.9 0.3M620.0 91.6l1.9 0.5M597.6 84.4l1.2 0.4M563.5 85.9l1.5 0.4M637.1 97.5l1.3 0.4M635.4 91.9l0.5 -0.2M608.3 86.0l0.7 -0.4M649.4 87.8l0.8 -0.1M576.2 87.8l1.5 0.2M628.9 88.6l1.4 0.4M620.6 78.9l1.1 0.0M653.6 86.4l0.4 0.2M656.1 99.0l1.8 -0.2M651.5 91.9l1.4 0.3M586.6 85.2l1.9 -0.2M588.6 82.5l2.1 0.3M644.1 98.8l0.7 -0.1M557.2 101.8l0.7 -0.3M599.1 83.6l2.0 0.1" stroke="#fff" stroke-width="1.0" stroke-linecap="round" opacity="0.8" clip-path="url(#plateclip)"/>
<path d="M559.0 101.4l1.8 -0.0M630.8 91.3l0.4 -0.1M556.8 86.1l0.7 0.1M615.1 90.7l0.7 0.4M628.6 96.4l1.3 -0.2M625.8 91.9l1.3 0.3M589.1 88.8l1.3 0.2M645.1 80.8l1.4 0.1M652.4 82.3l1.4 0.0M620.2 84.9l1.3 -0.1M588.0 87.6l1.6 -0.3M584.8 88.9l1.4 -0.2M660.6 83.6l1.1 -0.3M590.8 90.6l0.9 -0.5M607.4 100.5l1.5 -0.4M586.3 100.8l0.5 -0.1M637.7 82.9l0.9 -0.2M644.2 87.3l0.5 0.1M581.1 79.7l1.5 0.2M648.1 79.0l1.2 0.0M653.2 96.0l1.1 0.0M646.6 86.6l1.0 -0.4M651.7 88.5l1.6 -0.3M573.8 97.5l1.1 0.3M556.8 83.8l1.2 0.1M598.0 80.1l1.3 -0.1M624.6 83.2l1.7 -0.1M657.3 100.1l1.4 -0.3M620.1 90.2l1.1 -0.2M560.3 90.6l0.5 -0.0M624.6 82.3l1.5 -0.0M647.2 91.8l1.6 0.3M586.7 82.9l1.0 0.1M608.6 80.3l0.5 -0.5M644.7 98.6l0.6 0.4M644.6 79.6l1.4 -0.1M577.5 83.9l1.5 -0.4M558.1 94.9l1.7 -0.4M611.3 97.5l1.6 0.2M658.8 95.9l1.0 0.3M596.2 94.6l0.4 0.4M568.7 78.2l0.9 -0.1M610.5 95.0l1.1 0.4M613.3 83.1l1.7 -0.4M619.1 100.9l1.4 -0.4M619.2 101.0l1.6 -0.4M657.2 84.0l1.0 0.4M564.9 94.0l1.4 -0.1M569.8 98.1l1.4 0.1M561.9 83.0l1.6 0.5M572.0 79.7l1.6 0.1M576.4 88.9l1.0 -0.3M645.9 78.6l1.7 -0.1M629.5 77.9l0.5 -0.2M581.9 92.0l1.0 -0.3M580.6 84.5l1.2 0.2M658.8 94.3l1.2 -0.1M586.4 95.4l1.8 0.4M661.8 84.7l1.4 -0.2M567.1 101.3l0.4 0.1M633.4 100.2l1.1 0.0M599.9 77.3l1.3 -0.2M581.2 95.8l0.7 0.2M571.4 100.6l0.7 0.2M647.3 96.7l1.1 -0.5M574.1 90.3l0.6 0.4M589.8 83.6l1.1 0.5M617.8 79.2l0.8 0.0M638.1 83.3l0.8 0.4M644.5 94.6l1.5 0.1M593.0 77.4l1.6 0.2M574.3 96.3l0.6 -0.4M646.3 79.1l0.6 0.4M632.4 82.6l1.7 -0.3M640.6 95.8l0.5 0.1M648.9 87.3l1.1 0.3M657.0 86.5l1.6 -0.4M589.2 93.0l0.6 -0.2M605.0 86.3l1.4 0.3M581.9 91.8l0.6 -0.5M572.6 86.7l1.5 -0.2M618.1 77.7l1.3 0.4M580.0 78.3l0.6 -0.4M619.9 88.4l0.8 0.0M585.2 88.3l1.1 0.1M585.0 78.9l1.1 -0.4M617.0 80.7l1.4 -0.1M608.5 100.2l1.3 0.1M641.8 91.8l1.5 0.2M625.9 79.1l1.5 0.1M594.2 84.0l1.6 -0.2M559.1 87.2l0.9 -0.5M636.2 78.3l1.3 0.5M577.9 95.8l0.6 0.3M628.6 80.1l1.5 -0.5M603.2 99.8l1.2 0.3M621.9 97.9l0.9 -0.1M562.7 98.5l0.5 -0.3M657.7 81.6l1.5 -0.2M590.9 77.9l0.4 -0.1M573.7 98.0l1.3 0.2M557.4 77.8l0.9 -0.2M594.0 93.5l1.7 0.0M561.7 97.4l1.8 -0.5M600.2 91.2l1.5 -0.2M631.7 92.7l0.7 0.2M614.3 91.7l1.4 0.4M584.1 97.4l0.8 -0.2M610.3 83.5l1.3 0.5M561.4 80.7l0.6 0.5M597.5 92.8l1.5 0.1M607.1 84.6l1.2 -0.4M606.0 93.0l1.5 0.2M619.9 90.2l1.1 0.2M594.6 88.6l1.4 -0.0M571.8 92.3l0.5 -0.2M584.8 82.5l1.5 -0.3M597.3 83.1l1.1 -0.3M613.0 101.7l1.2 -0.4M604.6 93.1l0.7 -0.0M556.4 98.4l0.9 0.2M572.7 90.7l0.8 0.2M575.9 94.7l0.9 0.4M658.1 85.0l0.8 -0.0M614.2 94.9l1.3 -0.4M608.7 84.5l0.7 -0.4M619.1 88.3l0.9 0.2M618.0 79.5l1.7 0.1M656.8 96.3l1.3 -0.5M593.0 101.0l1.6 0.3M577.0 86.8l1.0 -0.2M623.1 91.9l1.0 -0.4M590.2 98.8l0.9 -0.5M619.5 81.4l1.2 0.1M570.1 90.5l1.7 0.0M597.1 91.7l0.8 0.1M581.2 91.4l0.6 -0.5M569.5 96.8l1.3 0.4M611.4 87.1l0.8 0.5M643.2 91.1l1.2 0.3" stroke="#111" stroke-width="1.1" stroke-linecap="round" clip-path="url(#plateclip)"/>
<path d="M553 76.5 L554.5 102.5" stroke="#111" stroke-width="4"/>
<path d="M552 76 C565 80 575 83 590 84.4 L661 84.4 M553 102.5 C565 97 576 93 590 90.8 L661 90.8" fill="none" stroke="#111" stroke-width="1.6"/>
<g font-family="Liberation Sans, sans-serif" font-size="17" fill="#111" stroke="#111" stroke-width="0.25">
<text x="33.6" y="173.8">early rapid cleavage stages</text>
<text x="277" y="174">mid-blastula</text>
<text x="427" y="174">gastrula</text>
<text x="570" y="174">neurula</text>
</g>
<rect x="5" y="240" width="312" height="7.5" fill="#4a72c0"/>
<rect x="329.7" y="240" width="21.3" height="7.5" fill="#4a72c0"/>
<rect x="363.8" y="240" width="14.2" height="7.5" fill="#4a72c0"/>
<rect x="390.6" y="240" width="6.9" height="7.5" fill="#4a72c0"/>
<rect x="318.4" y="226.3" width="300" height="7.5" fill="#111"/>
<path d="M614 218 L654 229.9 L614 241.6Z" fill="#111"/>
<path d="M60.5 302.8H134.3M60.5 313.4H134.3M235.2 302.8H309M235.2 313.4H309M134.3 302.8C135.8 293.1 146.7 286.6 165.3 286.6H204.2C222.8 286.6 233.7 293.1 235.2 302.8M134.3 313.4C135.8 323.5 146.7 330.2 165.3 330.2H204.2C222.8 330.2 233.7 323.5 235.2 313.4M148 300.6C152 297.5 157 296 170 296H199C212 296 217 297.5 221 300.6M148 315.6C152 318.8 157 320.3 170 320.3H199C212 320.3 217 318.8 221 315.6" fill="none" stroke="#4a72c0" stroke-width="1.9" stroke-linecap="butt"/>
<path d="M397.4 287.6H471.2M397.4 297.7H471.2M571.4 287.6H645.9M571.4 297.7H645.9M471.2 287.6C472.7 277.8 483.6 271.3 502.2 271.3H540.4C559.0 271.3 569.9 277.8 571.4 287.6M471.2 297.7C472.7 307.8 483.6 314.5 502.2 314.5H540.4C559.0 314.5 569.9 307.8 571.4 297.7M485.3 285.4C489.3 281.7 494.3 280.2 507.3 280.2H535.7C548.7 280.2 553.7 281.7 557.7 285.4M485.3 299.9C489.3 303.5 494.3 305 507.3 305H535.7C548.7 305 553.7 303.5 557.7 299.9" fill="none" stroke="#111" stroke-width="2.2" stroke-linecap="butt"/>
<path d="M174 389.2 L183.5 350" stroke="#4a72c0" stroke-width="1.6"/>
<path d="M187.6 342.7 L179.2 356.7 L187.1 358.5Z" fill="#4a72c0"/>
<path d="M184 372.9h8.5M188.2 368.6v8.6" stroke="#4a72c0" stroke-width="1.1"/>
<path d="M508.1 373.8 L518 336" stroke="#111" stroke-width="1.6"/>
<path d="M521.2 330.1 L514.6 340.6 L521.2 342.4Z" fill="#111"/>
<path d="M518 357.8h8.5M522.3 353.5v8.6" stroke="#111" stroke-width="1.1"/>
<g stroke="#333" stroke-width="1.4">
<rect x="105.4" y="532.5" width="100.3" height="60.5" rx="15" fill="#3d68b5" fill-opacity="0.85"/>
<rect x="4.5" y="460.4" width="108.5" height="53.2" rx="14" fill="#5078be" fill-opacity="0.76"/>
<rect x="36.6" y="400.4" width="133.2" height="74.4" rx="19" fill="#5078be" fill-opacity="0.76"/>
<rect x="102.2" y="475.4" width="79.1" height="64.4" rx="14" fill="#4a74c2" fill-opacity="0.5"/>
<rect x="29.3" y="543" width="81.3" height="56" rx="14" fill="#4a74c2" fill-opacity="0.5"/>
<rect x="45.2" y="508.7" width="67.8" height="41" rx="11" fill="#3e6bbb" fill-opacity="0.85"/>
</g>
<g font-family="Liberation Sans, sans-serif" font-size="15.3" fill="#111" stroke="#111" stroke-width="0.3" text-anchor="middle">
<text x="102.7" y="445">CHD4</text>
<text x="57.8" y="495.3">HDACm</text>
<text x="143.3" y="510.3">GATAD2</text>
<text x="77" y="534.2">MBD3</text>
<text x="66.3" y="574.8">RBBP7/4</text>
<text x="154.9" y="569.3">MTA2</text>
</g>
<text x="113.6" y="634.3" font-family="Liberation Sans, sans-serif" font-size="19.5" fill="#111" stroke="#111" stroke-width="0.25" text-anchor="middle">xNuRD</text>
<path d="M349.4 460.1L377.0 460.1M349.4 454.1L377.0 454.1" fill="none" stroke="#666" stroke-width="0.55"/><path d="M349.4 459.0L349.4 455.2M353.3 459.0L353.3 455.2M357.3 459.0L357.3 455.2M361.2 459.0L361.2 455.2M365.2 459.0L365.2 455.2M369.1 459.0L369.1 455.2M373.1 459.0L373.1 455.2M377.0 459.0L377.0 455.2" fill="none" stroke="#111" stroke-width="1.15"/><g fill="#fff" stroke="#555" stroke-width="0.5"><circle cx="349.4" cy="460.1" r="0.9"/><circle cx="349.4" cy="454.1" r="0.9"/><circle cx="353.3" cy="460.1" r="0.9"/><circle cx="353.3" cy="454.1" r="0.9"/><circle cx="357.3" cy="460.1" r="0.9"/><circle cx="357.3" cy="454.1" r="0.9"/><circle cx="361.2" cy="460.1" r="0.9"/><circle cx="361.2" cy="454.1" r="0.9"/><circle cx="365.2" cy="460.1" r="0.9"/><circle cx="365.2" cy="454.1" r="0.9"/><circle cx="369.1" cy="460.1" r="0.9"/><circle cx="369.1" cy="454.1" r="0.9"/><circle cx="373.1" cy="460.1" r="0.9"/><circle cx="373.1" cy="454.1" r="0.9"/><circle cx="377.0" cy="460.1" r="0.9"/><circle cx="377.0" cy="454.1" r="0.9"/></g><path d="M372.4 434.6L381.9 444.1M376.6 430.4L386.1 439.9" fill="none" stroke="#666" stroke-width="0.55"/><path d="M373.2 433.8L375.8 431.2M377.9 438.6L380.6 435.9M382.7 443.3L385.3 440.7" fill="none" stroke="#111" stroke-width="1.15"/><g fill="#fff" stroke="#555" stroke-width="0.5"><circle cx="372.4" cy="434.6" r="0.9"/><circle cx="376.6" cy="430.4" r="0.9"/><circle cx="377.1" cy="439.4" r="0.9"/><circle cx="381.4" cy="435.1" r="0.9"/><circle cx="381.9" cy="444.1" r="0.9"/><circle cx="386.1" cy="439.9" r="0.9"/></g><path d="M416.6 477.4L448.4 507.2M420.8 473.0L452.6 502.8" fill="none" stroke="#666" stroke-width="0.55"/><path d="M417.4 476.6L420.0 473.8M420.6 479.5L423.2 476.8M423.8 482.5L426.3 479.8M427.0 485.5L429.5 482.8M430.1 488.5L432.7 485.8M433.3 491.5L435.9 488.7M436.5 494.4L439.1 491.7M439.7 497.4L442.2 494.7M442.9 500.4L445.4 497.7M446.0 503.4L448.6 500.7M449.2 506.4L451.8 503.6" fill="none" stroke="#111" stroke-width="1.15"/><g fill="#fff" stroke="#555" stroke-width="0.5"><circle cx="416.6" cy="477.4" r="0.9"/><circle cx="420.8" cy="473.0" r="0.9"/><circle cx="419.8" cy="480.4" r="0.9"/><circle cx="423.9" cy="476.0" r="0.9"/><circle cx="423.0" cy="483.3" r="0.9"/><circle cx="427.1" cy="479.0" r="0.9"/><circle cx="426.2" cy="486.3" r="0.9"/><circle cx="430.3" cy="482.0" r="0.9"/><circle cx="429.4" cy="489.3" r="0.9"/><circle cx="433.5" cy="484.9" r="0.9"/><circle cx="432.5" cy="492.3" r="0.9"/><circle cx="436.7" cy="487.9" r="0.9"/><circle cx="435.7" cy="495.3" r="0.9"/><circle cx="439.8" cy="490.9" r="0.9"/><circle cx="438.9" cy="498.2" r="0.9"/><circle cx="443.0" cy="493.9" r="0.9"/><circle cx="442.1" cy="501.2" r="0.9"/><circle cx="446.2" cy="496.9" r="0.9"/><circle cx="445.3" cy="504.2" r="0.9"/><circle cx="449.4" cy="499.8" r="0.9"/><circle cx="448.4" cy="507.2" r="0.9"/><circle cx="452.6" cy="502.8" r="0.9"/></g><path d="M455.0 524.0L455.0 561.5M461.0 524.0L461.0 561.5" fill="none" stroke="#666" stroke-width="0.55"/><path d="M456.1 524.0L459.9 524.0M456.1 528.2L459.9 528.2M456.1 532.3L459.9 532.3M456.1 536.5L459.9 536.5M456.1 540.7L459.9 540.7M456.1 544.8L459.9 544.8M456.1 549.0L459.9 549.0M456.1 553.2L459.9 553.2M456.1 557.3L459.9 557.3M456.1 561.5L459.9 561.5" fill="none" stroke="#111" stroke-width="1.15"/><g fill="#fff" stroke="#555" stroke-width="0.5"><circle cx="455.0" cy="524.0" r="0.9"/><circle cx="461.0" cy="524.0" r="0.9"/><circle cx="455.0" cy="528.2" r="0.9"/><circle cx="461.0" cy="528.2" r="0.9"/><circle cx="455.0" cy="532.3" r="0.9"/><circle cx="461.0" cy="532.3" r="0.9"/><circle cx="455.0" cy="536.5" r="0.9"/><circle cx="461.0" cy="536.5" r="0.9"/><circle cx="455.0" cy="540.7" r="0.9"/><circle cx="461.0" cy="540.7" r="0.9"/><circle cx="455.0" cy="544.8" r="0.9"/><circle cx="461.0" cy="544.8" r="0.9"/><circle cx="455.0" cy="549.0" r="0.9"/><circle cx="461.0" cy="549.0" r="0.9"/><circle cx="455.0" cy="553.2" r="0.9"/><circle cx="461.0" cy="553.2" r="0.9"/><circle cx="455.0" cy="557.3" r="0.9"/><circle cx="461.0" cy="557.3" r="0.9"/><circle cx="455.0" cy="561.5" r="0.9"/><circle cx="461.0" cy="561.5" r="0.9"/></g><circle cx="401.8" cy="457.1" r="24.8" fill="none" stroke="#666" stroke-width="0.6"/><g fill="#fff" stroke="#666" stroke-width="0.6"><circle cx="426.1" cy="462.0" r="0.95"/><circle cx="424.7" cy="466.7" r="0.95"/><circle cx="422.4" cy="471.0" r="0.95"/><circle cx="419.3" cy="474.7" r="0.95"/><circle cx="415.5" cy="477.8" r="0.95"/><circle cx="411.2" cy="480.0" r="0.95"/><circle cx="406.5" cy="481.4" r="0.95"/><circle cx="401.7" cy="481.9" r="0.95"/><circle cx="396.9" cy="481.4" r="0.95"/><circle cx="392.2" cy="480.0" r="0.95"/><circle cx="387.9" cy="477.7" r="0.95"/><circle cx="384.2" cy="474.6" r="0.95"/><circle cx="381.1" cy="470.8" r="0.95"/><circle cx="378.9" cy="466.5" r="0.95"/><circle cx="377.5" cy="461.8" r="0.95"/><circle cx="377.0" cy="457.0" r="0.95"/><circle cx="377.5" cy="452.2" r="0.95"/><circle cx="378.9" cy="447.5" r="0.95"/><circle cx="381.2" cy="443.2" r="0.95"/><circle cx="384.3" cy="439.5" r="0.95"/><circle cx="388.1" cy="436.4" r="0.95"/><circle cx="392.4" cy="434.2" r="0.95"/><circle cx="397.1" cy="432.8" r="0.95"/><circle cx="401.9" cy="432.3" r="0.95"/><circle cx="406.7" cy="432.8" r="0.95"/><circle cx="411.4" cy="434.2" r="0.95"/><circle cx="415.7" cy="436.5" r="0.95"/><circle cx="419.4" cy="439.6" r="0.95"/><circle cx="422.5" cy="443.4" r="0.95"/><circle cx="424.7" cy="447.7" r="0.95"/><circle cx="426.1" cy="452.4" r="0.95"/><circle cx="426.6" cy="457.2" r="0.95"/></g><circle cx="340.4" cy="457.1" r="9.0" fill="none" stroke="#666" stroke-width="0.6"/><g fill="#fff" stroke="#666" stroke-width="0.6"><circle cx="349.2" cy="458.9" r="0.95"/><circle cx="347.1" cy="463.1" r="0.95"/><circle cx="343.3" cy="465.6" r="0.95"/><circle cx="338.6" cy="465.9" r="0.95"/><circle cx="334.4" cy="463.8" r="0.95"/><circle cx="331.9" cy="460.0" r="0.95"/><circle cx="331.6" cy="455.3" r="0.95"/><circle cx="333.7" cy="451.1" r="0.95"/><circle cx="337.5" cy="448.6" r="0.95"/><circle cx="342.2" cy="448.3" r="0.95"/><circle cx="346.4" cy="450.4" r="0.95"/><circle cx="348.9" cy="454.2" r="0.95"/></g><circle cx="371.3" cy="426.6" r="7.9" fill="none" stroke="#666" stroke-width="0.6"/><g fill="#fff" stroke="#666" stroke-width="0.6"><circle cx="379.0" cy="428.2" r="0.95"/><circle cx="376.6" cy="432.4" r="0.95"/><circle cx="372.2" cy="434.4" r="0.95"/><circle cx="367.4" cy="433.5" r="0.95"/><circle cx="364.1" cy="429.9" r="0.95"/><circle cx="363.6" cy="425.0" r="0.95"/><circle cx="366.0" cy="420.8" r="0.95"/><circle cx="370.4" cy="418.8" r="0.95"/><circle cx="375.2" cy="419.7" r="0.95"/><circle cx="378.5" cy="423.3" r="0.95"/></g><circle cx="458.1" cy="512.9" r="11.6" fill="none" stroke="#666" stroke-width="0.6"/><g fill="#fff" stroke="#666" stroke-width="0.6"><circle cx="469.5" cy="515.2" r="0.95"/><circle cx="467.5" cy="519.6" r="0.95"/><circle cx="464.0" cy="522.9" r="0.95"/><circle cx="459.4" cy="524.4" r="0.95"/><circle cx="454.6" cy="524.0" r="0.95"/><circle cx="450.4" cy="521.6" r="0.95"/><circle cx="447.5" cy="517.7" r="0.95"/><circle cx="446.5" cy="513.0" r="0.95"/><circle cx="447.5" cy="508.3" r="0.95"/><circle cx="450.3" cy="504.4" r="0.95"/><circle cx="454.4" cy="501.9" r="0.95"/><circle cx="459.2" cy="501.4" r="0.95"/><circle cx="463.8" cy="502.8" r="0.95"/><circle cx="467.4" cy="506.0" r="0.95"/><circle cx="469.4" cy="510.4" r="0.95"/></g><path d="M455.0 562.0h-6M461.0 562.0l1.5 7l4 5" fill="none" stroke="#444" stroke-width="0.8"/><g fill="#fff" stroke="#555" stroke-width="0.5"><circle cx="448.0" cy="562.0" r="0.9"/><circle cx="466.5" cy="574.0" r="0.9"/></g><path d="M453.0 387.4L453.0 409.0M460.0 387.4L460.0 409.0" fill="none" stroke="#666" stroke-width="0.55"/><path d="M454.3 387.4L458.7 387.4M454.3 391.7L458.7 391.7M454.3 396.0L458.7 396.0M454.3 400.4L458.7 400.4M454.3 404.7L458.7 404.7M454.3 409.0L458.7 409.0" fill="none" stroke="#111" stroke-width="1.15"/><g fill="#fff" stroke="#555" stroke-width="0.5"><circle cx="453.0" cy="387.4" r="0.9"/><circle cx="460.0" cy="387.4" r="0.9"/><circle cx="453.0" cy="391.7" r="0.9"/><circle cx="460.0" cy="391.7" r="0.9"/><circle cx="453.0" cy="396.0" r="0.9"/><circle cx="460.0" cy="396.0" r="0.9"/><circle cx="453.0" cy="400.4" r="0.9"/><circle cx="460.0" cy="400.4" r="0.9"/><circle cx="453.0" cy="404.7" r="0.9"/><circle cx="460.0" cy="404.7" r="0.9"/><circle cx="453.0" cy="409.0" r="0.9"/><circle cx="460.0" cy="409.0" r="0.9"/></g><path d="M453.0 436.0L453.0 452.0M460.0 436.0L460.0 452.0" fill="none" stroke="#666" stroke-width="0.55"/><path d="M454.3 436.0L458.7 436.0M454.3 440.0L458.7 440.0M454.3 444.0L458.7 444.0M454.3 448.0L458.7 448.0M454.3 452.0L458.7 452.0" fill="none" stroke="#111" stroke-width="1.15"/><g fill="#fff" stroke="#555" stroke-width="0.5"><circle cx="453.0" cy="436.0" r="0.9"/><circle cx="460.0" cy="436.0" r="0.9"/><circle cx="453.0" cy="440.0" r="0.9"/><circle cx="460.0" cy="440.0" r="0.9"/><circle cx="453.0" cy="444.0" r="0.9"/><circle cx="460.0" cy="444.0" r="0.9"/><circle cx="453.0" cy="448.0" r="0.9"/><circle cx="460.0" cy="448.0" r="0.9"/><circle cx="453.0" cy="452.0" r="0.9"/><circle cx="460.0" cy="452.0" r="0.9"/></g><path d="M462.4 475.7L493.6 505.5M467.2 470.7L498.4 500.5" fill="none" stroke="#666" stroke-width="0.55"/><path d="M463.3 474.8L466.3 471.6M466.4 477.7L469.4 474.6M469.5 480.7L472.5 477.6M472.7 483.7L475.7 480.6M475.8 486.7L478.8 483.6M478.9 489.7L481.9 486.5M482.0 492.6L485.0 489.5M485.1 495.6L488.1 492.5M488.3 498.6L491.3 495.5M491.4 501.6L494.4 498.5M494.5 504.6L497.5 501.4" fill="none" stroke="#111" stroke-width="1.15"/><g fill="#fff" stroke="#555" stroke-width="0.5"><circle cx="462.4" cy="475.7" r="0.9"/><circle cx="467.2" cy="470.7" r="0.9"/><circle cx="465.5" cy="478.7" r="0.9"/><circle cx="470.3" cy="473.6" r="0.9"/><circle cx="468.6" cy="481.7" r="0.9"/><circle cx="473.5" cy="476.6" r="0.9"/><circle cx="471.7" cy="484.7" r="0.9"/><circle cx="476.6" cy="479.6" r="0.9"/><circle cx="474.9" cy="487.7" r="0.9"/><circle cx="479.7" cy="482.6" r="0.9"/><circle cx="478.0" cy="490.6" r="0.9"/><circle cx="482.8" cy="485.6" r="0.9"/><circle cx="481.1" cy="493.6" r="0.9"/><circle cx="485.9" cy="488.5" r="0.9"/><circle cx="484.2" cy="496.6" r="0.9"/><circle cx="489.1" cy="491.5" r="0.9"/><circle cx="487.3" cy="499.6" r="0.9"/><circle cx="492.2" cy="494.5" r="0.9"/><circle cx="490.5" cy="502.6" r="0.9"/><circle cx="495.3" cy="497.5" r="0.9"/><circle cx="493.6" cy="505.5" r="0.9"/><circle cx="498.4" cy="500.5" r="0.9"/></g><path d="M501.0 523.7L501.0 561.5M508.0 523.7L508.0 561.5" fill="none" stroke="#666" stroke-width="0.55"/><path d="M502.3 523.7L506.7 523.7M502.3 527.9L506.7 527.9M502.3 532.1L506.7 532.1M502.3 536.3L506.7 536.3M502.3 540.5L506.7 540.5M502.3 544.7L506.7 544.7M502.3 548.9L506.7 548.9M502.3 553.1L506.7 553.1M502.3 557.3L506.7 557.3M502.3 561.5L506.7 561.5" fill="none" stroke="#111" stroke-width="1.15"/><g fill="#fff" stroke="#555" stroke-width="0.5"><circle cx="501.0" cy="523.7" r="0.9"/><circle cx="508.0" cy="523.7" r="0.9"/><circle cx="501.0" cy="527.9" r="0.9"/><circle cx="508.0" cy="527.9" r="0.9"/><circle cx="501.0" cy="532.1" r="0.9"/><circle cx="508.0" cy="532.1" r="0.9"/><circle cx="501.0" cy="536.3" r="0.9"/><circle cx="508.0" cy="536.3" r="0.9"/><circle cx="501.0" cy="540.5" r="0.9"/><circle cx="508.0" cy="540.5" r="0.9"/><circle cx="501.0" cy="544.7" r="0.9"/><circle cx="508.0" cy="544.7" r="0.9"/><circle cx="501.0" cy="548.9" r="0.9"/><circle cx="508.0" cy="548.9" r="0.9"/><circle cx="501.0" cy="553.1" r="0.9"/><circle cx="508.0" cy="553.1" r="0.9"/><circle cx="501.0" cy="557.3" r="0.9"/><circle cx="508.0" cy="557.3" r="0.9"/><circle cx="501.0" cy="561.5" r="0.9"/><circle cx="508.0" cy="561.5" r="0.9"/></g><circle cx="456.5" cy="380.7" r="6.6" fill="none" stroke="#666" stroke-width="0.6"/><g fill="#fff" stroke="#666" stroke-width="0.6"><circle cx="463.0" cy="382.0" r="0.95"/><circle cx="460.6" cy="385.9" r="0.95"/><circle cx="456.3" cy="387.3" r="0.95"/><circle cx="452.1" cy="385.6" r="0.95"/><circle cx="450.0" cy="381.7" r="0.95"/><circle cx="450.9" cy="377.3" r="0.95"/><circle cx="454.4" cy="374.4" r="0.95"/><circle cx="458.9" cy="374.6" r="0.95"/><circle cx="462.3" cy="377.5" r="0.95"/></g><circle cx="456.5" cy="423.0" r="13.8" fill="none" stroke="#666" stroke-width="0.6"/><g fill="#fff" stroke="#666" stroke-width="0.6"><circle cx="470.0" cy="425.7" r="0.95"/><circle cx="468.3" cy="430.2" r="0.95"/><circle cx="465.1" cy="433.8" r="0.95"/><circle cx="460.9" cy="436.1" r="0.95"/><circle cx="456.1" cy="436.8" r="0.95"/><circle cx="451.5" cy="435.8" r="0.95"/><circle cx="447.4" cy="433.3" r="0.95"/><circle cx="444.4" cy="429.6" r="0.95"/><circle cx="442.9" cy="425.0" r="0.95"/><circle cx="443.0" cy="420.3" r="0.95"/><circle cx="444.7" cy="415.8" r="0.95"/><circle cx="447.9" cy="412.2" r="0.95"/><circle cx="452.1" cy="409.9" r="0.95"/><circle cx="456.9" cy="409.2" r="0.95"/><circle cx="461.5" cy="410.2" r="0.95"/><circle cx="465.6" cy="412.7" r="0.95"/><circle cx="468.6" cy="416.4" r="0.95"/><circle cx="470.1" cy="421.0" r="0.95"/></g><circle cx="456.5" cy="464.4" r="12.2" fill="none" stroke="#666" stroke-width="0.6"/><g fill="#fff" stroke="#666" stroke-width="0.6"><circle cx="468.5" cy="466.8" r="0.95"/><circle cx="466.6" cy="471.2" r="0.95"/><circle cx="463.2" cy="474.6" r="0.95"/><circle cx="458.8" cy="476.4" r="0.95"/><circle cx="454.1" cy="476.4" r="0.95"/><circle cx="449.7" cy="474.5" r="0.95"/><circle cx="446.3" cy="471.1" r="0.95"/><circle cx="444.5" cy="466.7" r="0.95"/><circle cx="444.5" cy="462.0" r="0.95"/><circle cx="446.4" cy="457.6" r="0.95"/><circle cx="449.8" cy="454.2" r="0.95"/><circle cx="454.2" cy="452.4" r="0.95"/><circle cx="458.9" cy="452.4" r="0.95"/><circle cx="463.3" cy="454.3" r="0.95"/><circle cx="466.7" cy="457.7" r="0.95"/><circle cx="468.5" cy="462.1" r="0.95"/></g><circle cx="504.5" cy="511.3" r="12.0" fill="none" stroke="#666" stroke-width="0.6"/><g fill="#fff" stroke="#666" stroke-width="0.6"><circle cx="516.3" cy="513.7" r="0.95"/><circle cx="514.5" cy="518.0" r="0.95"/><circle cx="511.1" cy="521.3" r="0.95"/><circle cx="506.8" cy="523.1" r="0.95"/><circle cx="502.1" cy="523.1" r="0.95"/><circle cx="497.8" cy="521.3" r="0.95"/><circle cx="494.5" cy="517.9" r="0.95"/><circle cx="492.7" cy="513.6" r="0.95"/><circle cx="492.7" cy="508.9" r="0.95"/><circle cx="494.5" cy="504.6" r="0.95"/><circle cx="497.9" cy="501.3" r="0.95"/><circle cx="502.2" cy="499.5" r="0.95"/><circle cx="506.9" cy="499.5" r="0.95"/><circle cx="511.2" cy="501.3" r="0.95"/><circle cx="514.5" cy="504.7" r="0.95"/><circle cx="516.3" cy="509.0" r="0.95"/></g><path d="M501.5 562.0h-6M507.5 562.0l1.5 7l4 5" fill="none" stroke="#444" stroke-width="0.8"/><g fill="#fff" stroke="#555" stroke-width="0.5"><circle cx="494.5" cy="562.0" r="0.9"/><circle cx="513.0" cy="574.0" r="0.9"/></g><path d="M490.0 443.2L503.0 455.2M494.0 438.8L507.0 450.8" fill="none" stroke="#666" stroke-width="0.55"/><path d="M490.7 442.4L493.3 439.6M495.1 446.4L497.6 443.6M499.4 450.4L501.9 447.6M503.7 454.4L506.3 451.6" fill="none" stroke="#111" stroke-width="1.15"/><g fill="#fff" stroke="#555" stroke-width="0.5"><circle cx="490.0" cy="443.2" r="0.9"/><circle cx="494.0" cy="438.8" r="0.9"/><circle cx="494.3" cy="447.2" r="0.9"/><circle cx="498.4" cy="442.8" r="0.9"/><circle cx="498.6" cy="451.2" r="0.9"/><circle cx="502.7" cy="446.8" r="0.9"/><circle cx="503.0" cy="455.2" r="0.9"/><circle cx="507.0" cy="450.8" r="0.9"/></g><circle cx="488.8" cy="437.9" r="5.5" fill="none" stroke="#666" stroke-width="0.6"/><g fill="#fff" stroke="#666" stroke-width="0.6"><circle cx="494.2" cy="439.0" r="0.95"/><circle cx="491.3" cy="442.8" r="0.95"/><circle cx="486.5" cy="442.9" r="0.95"/><circle cx="483.5" cy="439.3" r="0.95"/><circle cx="484.4" cy="434.6" r="0.95"/><circle cx="488.7" cy="432.4" r="0.95"/><circle cx="493.0" cy="434.4" r="0.95"/></g><circle cx="515.3" cy="463.2" r="14.5" fill="none" stroke="#666" stroke-width="0.6"/><g fill="#fff" stroke="#666" stroke-width="0.6"><circle cx="529.5" cy="466.1" r="0.95"/><circle cx="527.8" cy="470.5" r="0.95"/><circle cx="524.7" cy="474.2" r="0.95"/><circle cx="520.7" cy="476.7" r="0.95"/><circle cx="516.0" cy="477.7" r="0.95"/><circle cx="511.3" cy="477.1" r="0.95"/><circle cx="507.0" cy="475.1" r="0.95"/><circle cx="503.6" cy="471.7" r="0.95"/><circle cx="501.4" cy="467.4" r="0.95"/><circle cx="500.8" cy="462.7" r="0.95"/><circle cx="501.8" cy="458.0" r="0.95"/><circle cx="504.2" cy="453.9" r="0.95"/><circle cx="507.8" cy="450.8" r="0.95"/><circle cx="512.2" cy="449.0" r="0.95"/><circle cx="517.0" cy="448.8" r="0.95"/><circle cx="521.6" cy="450.1" r="0.95"/><circle cx="525.5" cy="452.9" r="0.95"/><circle cx="528.3" cy="456.7" r="0.95"/><circle cx="529.7" cy="461.3" r="0.95"/></g><path d="M522.9 475.9L555.9 507.2M527.1 471.5L560.1 502.8" fill="none" stroke="#666" stroke-width="0.55"/><path d="M523.7 475.0L526.3 472.4M526.7 477.9L529.3 475.2M529.7 480.7L532.3 478.0M532.7 483.6L535.3 480.9M535.7 486.4L538.3 483.7M538.7 489.3L541.3 486.6M541.7 492.1L544.3 489.4M544.7 495.0L547.3 492.3M547.7 497.8L550.3 495.1M550.7 500.7L553.3 498.0M553.7 503.5L556.3 500.8M556.7 506.3L559.3 503.7" fill="none" stroke="#111" stroke-width="1.15"/><g fill="#fff" stroke="#555" stroke-width="0.5"><circle cx="522.9" cy="475.9" r="0.9"/><circle cx="527.1" cy="471.5" r="0.9"/><circle cx="525.9" cy="478.7" r="0.9"/><circle cx="530.1" cy="474.4" r="0.9"/><circle cx="528.9" cy="481.6" r="0.9"/><circle cx="533.1" cy="477.2" r="0.9"/><circle cx="531.9" cy="484.4" r="0.9"/><circle cx="536.1" cy="480.1" r="0.9"/><circle cx="534.9" cy="487.3" r="0.9"/><circle cx="539.1" cy="482.9" r="0.9"/><circle cx="537.9" cy="490.1" r="0.9"/><circle cx="542.1" cy="485.8" r="0.9"/><circle cx="540.9" cy="492.9" r="0.9"/><circle cx="545.1" cy="488.6" r="0.9"/><circle cx="543.9" cy="495.8" r="0.9"/><circle cx="548.1" cy="491.4" r="0.9"/><circle cx="546.9" cy="498.6" r="0.9"/><circle cx="551.1" cy="494.3" r="0.9"/><circle cx="549.9" cy="501.5" r="0.9"/><circle cx="554.1" cy="497.1" r="0.9"/><circle cx="552.9" cy="504.3" r="0.9"/><circle cx="557.1" cy="500.0" r="0.9"/><circle cx="555.9" cy="507.2" r="0.9"/><circle cx="560.1" cy="502.8" r="0.9"/></g><circle cx="566.5" cy="513.9" r="11.2" fill="none" stroke="#666" stroke-width="0.6"/><g fill="#fff" stroke="#666" stroke-width="0.6"><circle cx="577.5" cy="516.1" r="0.95"/><circle cx="575.6" cy="520.4" r="0.95"/><circle cx="572.2" cy="523.5" r="0.95"/><circle cx="567.8" cy="525.0" r="0.95"/><circle cx="563.1" cy="524.6" r="0.95"/><circle cx="559.1" cy="522.3" r="0.95"/><circle cx="556.3" cy="518.6" r="0.95"/><circle cx="555.3" cy="514.0" r="0.95"/><circle cx="556.2" cy="509.4" r="0.95"/><circle cx="558.9" cy="505.6" r="0.95"/><circle cx="562.9" cy="503.3" r="0.95"/><circle cx="567.6" cy="502.8" r="0.95"/><circle cx="572.0" cy="504.1" r="0.95"/><circle cx="575.5" cy="507.2" r="0.95"/><circle cx="577.4" cy="511.5" r="0.95"/></g><path d="M564.0 525.0L564.0 557.0M570.0 525.0L570.0 557.0" fill="none" stroke="#666" stroke-width="0.55"/><path d="M565.1 525.0L568.9 525.0M565.1 529.0L568.9 529.0M565.1 533.0L568.9 533.0M565.1 537.0L568.9 537.0M565.1 541.0L568.9 541.0M565.1 545.0L568.9 545.0M565.1 549.0L568.9 549.0M565.1 553.0L568.9 553.0M565.1 557.0L568.9 557.0" fill="none" stroke="#111" stroke-width="1.15"/><g fill="#fff" stroke="#555" stroke-width="0.5"><circle cx="564.0" cy="525.0" r="0.9"/><circle cx="570.0" cy="525.0" r="0.9"/><circle cx="564.0" cy="529.0" r="0.9"/><circle cx="570.0" cy="529.0" r="0.9"/><circle cx="564.0" cy="533.0" r="0.9"/><circle cx="570.0" cy="533.0" r="0.9"/><circle cx="564.0" cy="537.0" r="0.9"/><circle cx="570.0" cy="537.0" r="0.9"/><circle cx="564.0" cy="541.0" r="0.9"/><circle cx="570.0" cy="541.0" r="0.9"/><circle cx="564.0" cy="545.0" r="0.9"/><circle cx="570.0" cy="545.0" r="0.9"/><circle cx="564.0" cy="549.0" r="0.9"/><circle cx="570.0" cy="549.0" r="0.9"/><circle cx="564.0" cy="553.0" r="0.9"/><circle cx="570.0" cy="553.0" r="0.9"/><circle cx="564.0" cy="557.0" r="0.9"/><circle cx="570.0" cy="557.0" r="0.9"/></g><path d="M564.0 557.5l-4 5l-6 2.5M570.0 557.5l3.5 6.5l-1 10" fill="none" stroke="#444" stroke-width="0.8"/><g fill="#fff" stroke="#555" stroke-width="0.5"><circle cx="553.0" cy="565.5" r="0.9"/><circle cx="573.5" cy="564.5" r="1.3"/><circle cx="572.5" cy="575.5" r="0.9"/></g><path d="M536.1 435.2L551.0 449.4M540.3 430.8L555.2 445.0" fill="none" stroke="#666" stroke-width="0.55"/><path d="M536.9 434.3L539.5 431.7M540.6 437.9L543.2 435.2M544.4 441.4L546.9 438.8M548.1 445.0L550.7 442.3M551.8 448.5L554.4 445.9" fill="none" stroke="#111" stroke-width="1.15"/><g fill="#fff" stroke="#555" stroke-width="0.5"><circle cx="536.1" cy="435.2" r="0.9"/><circle cx="540.3" cy="430.8" r="0.9"/><circle cx="539.9" cy="438.7" r="0.9"/><circle cx="544.0" cy="434.4" r="0.9"/><circle cx="543.6" cy="442.3" r="0.9"/><circle cx="547.7" cy="437.9" r="0.9"/><circle cx="547.3" cy="445.8" r="0.9"/><circle cx="551.4" cy="441.5" r="0.9"/><circle cx="551.0" cy="449.4" r="0.9"/><circle cx="555.2" cy="445.0" r="0.9"/></g><circle cx="531.6" cy="426.5" r="8.3" fill="none" stroke="#666" stroke-width="0.6"/><g fill="#fff" stroke="#666" stroke-width="0.6"><circle cx="539.7" cy="428.1" r="0.95"/><circle cx="537.6" cy="432.3" r="0.95"/><circle cx="533.5" cy="434.6" r="0.95"/><circle cx="528.8" cy="434.3" r="0.95"/><circle cx="525.0" cy="431.6" r="0.95"/><circle cx="523.3" cy="427.2" r="0.95"/><circle cx="524.3" cy="422.6" r="0.95"/><circle cx="527.5" cy="419.3" r="0.95"/><circle cx="532.1" cy="418.2" r="0.95"/><circle cx="536.5" cy="419.8" r="0.95"/><circle cx="539.3" cy="423.5" r="0.95"/></g><circle cx="565.5" cy="459.6" r="18.2" fill="none" stroke="#666" stroke-width="0.6"/><g fill="#fff" stroke="#666" stroke-width="0.6"><circle cx="583.3" cy="463.2" r="0.95"/><circle cx="581.8" cy="467.7" r="0.95"/><circle cx="579.1" cy="471.6" r="0.95"/><circle cx="575.6" cy="474.8" r="0.95"/><circle cx="571.3" cy="476.9" r="0.95"/><circle cx="566.6" cy="477.8" r="0.95"/><circle cx="561.9" cy="477.4" r="0.95"/><circle cx="557.4" cy="475.9" r="0.95"/><circle cx="553.5" cy="473.2" r="0.95"/><circle cx="550.3" cy="469.7" r="0.95"/><circle cx="548.2" cy="465.4" r="0.95"/><circle cx="547.3" cy="460.7" r="0.95"/><circle cx="547.7" cy="456.0" r="0.95"/><circle cx="549.2" cy="451.5" r="0.95"/><circle cx="551.9" cy="447.6" r="0.95"/><circle cx="555.4" cy="444.4" r="0.95"/><circle cx="559.7" cy="442.3" r="0.95"/><circle cx="564.4" cy="441.4" r="0.95"/><circle cx="569.1" cy="441.8" r="0.95"/><circle cx="573.6" cy="443.3" r="0.95"/><circle cx="577.5" cy="446.0" r="0.95"/><circle cx="580.7" cy="449.5" r="0.95"/><circle cx="582.8" cy="453.8" r="0.95"/><circle cx="583.7" cy="458.5" r="0.95"/></g><path d="M575.9 475.0L591.9 490.6M580.1 470.8L596.1 486.4" fill="none" stroke="#666" stroke-width="0.55"/><path d="M576.7 474.2L579.3 471.6M580.7 478.1L583.3 475.5M584.7 482.0L587.3 479.4M588.7 485.9L591.3 483.3M592.7 489.8L595.3 487.2" fill="none" stroke="#111" stroke-width="1.15"/><g fill="#fff" stroke="#555" stroke-width="0.5"><circle cx="575.9" cy="475.0" r="0.9"/><circle cx="580.1" cy="470.8" r="0.9"/><circle cx="579.9" cy="478.9" r="0.9"/><circle cx="584.1" cy="474.7" r="0.9"/><circle cx="583.9" cy="482.8" r="0.9"/><circle cx="588.1" cy="478.6" r="0.9"/><circle cx="587.9" cy="486.7" r="0.9"/><circle cx="592.1" cy="482.5" r="0.9"/><circle cx="591.9" cy="490.6" r="0.9"/><circle cx="596.1" cy="486.4" r="0.9"/></g><circle cx="597.5" cy="492.0" r="4.2" fill="none" stroke="#666" stroke-width="0.6"/><g fill="#fff" stroke="#666" stroke-width="0.6"><circle cx="601.6" cy="492.8" r="0.95"/><circle cx="598.0" cy="496.2" r="0.95"/><circle cx="593.7" cy="493.7" r="0.95"/><circle cx="594.7" cy="488.9" r="0.95"/><circle cx="599.6" cy="488.3" r="0.95"/></g><path d="M599.0 497.7L613.4 511.1M603.0 493.3L617.4 506.7" fill="none" stroke="#666" stroke-width="0.55"/><path d="M599.7 496.9L602.3 494.1M604.5 501.3L607.1 498.6M609.3 505.8L611.9 503.1M614.1 510.3L616.7 507.5" fill="none" stroke="#111" stroke-width="1.15"/><g fill="#fff" stroke="#555" stroke-width="0.5"><circle cx="599.0" cy="497.7" r="0.9"/><circle cx="603.0" cy="493.3" r="0.9"/><circle cx="603.8" cy="502.2" r="0.9"/><circle cx="607.8" cy="497.8" r="0.9"/><circle cx="608.6" cy="506.6" r="0.9"/><circle cx="612.6" cy="502.2" r="0.9"/><circle cx="613.4" cy="511.1" r="0.9"/><circle cx="617.4" cy="506.7" r="0.9"/></g><circle cx="622.8" cy="515.6" r="10.0" fill="none" stroke="#666" stroke-width="0.6"/><g fill="#fff" stroke="#666" stroke-width="0.6"><circle cx="632.6" cy="517.6" r="0.95"/><circle cx="630.6" cy="521.9" r="0.95"/><circle cx="626.7" cy="524.8" r="0.95"/><circle cx="622.0" cy="525.6" r="0.95"/><circle cx="617.5" cy="524.1" r="0.95"/><circle cx="614.1" cy="520.6" r="0.95"/><circle cx="612.8" cy="516.0" r="0.95"/><circle cx="613.8" cy="511.3" r="0.95"/><circle cx="616.8" cy="507.6" r="0.95"/><circle cx="621.2" cy="505.7" r="0.95"/><circle cx="626.0" cy="506.1" r="0.95"/><circle cx="630.0" cy="508.7" r="0.95"/><circle cx="632.4" cy="512.8" r="0.95"/></g><path d="M619.4 525.5L619.4 557.8M625.4 525.5L625.4 557.8" fill="none" stroke="#666" stroke-width="0.55"/><path d="M620.5 525.5L624.3 525.5M620.5 529.5L624.3 529.5M620.5 533.6L624.3 533.6M620.5 537.6L624.3 537.6M620.5 541.6L624.3 541.6M620.5 545.7L624.3 545.7M620.5 549.7L624.3 549.7M620.5 553.8L624.3 553.8M620.5 557.8L624.3 557.8" fill="none" stroke="#111" stroke-width="1.15"/><g fill="#fff" stroke="#555" stroke-width="0.5"><circle cx="619.4" cy="525.5" r="0.9"/><circle cx="625.4" cy="525.5" r="0.9"/><circle cx="619.4" cy="529.5" r="0.9"/><circle cx="625.4" cy="529.5" r="0.9"/><circle cx="619.4" cy="533.6" r="0.9"/><circle cx="625.4" cy="533.6" r="0.9"/><circle cx="619.4" cy="537.6" r="0.9"/><circle cx="625.4" cy="537.6" r="0.9"/><circle cx="619.4" cy="541.6" r="0.9"/><circle cx="625.4" cy="541.6" r="0.9"/><circle cx="619.4" cy="545.7" r="0.9"/><circle cx="625.4" cy="545.7" r="0.9"/><circle cx="619.4" cy="549.7" r="0.9"/><circle cx="625.4" cy="549.7" r="0.9"/><circle cx="619.4" cy="553.8" r="0.9"/><circle cx="625.4" cy="553.8" r="0.9"/><circle cx="619.4" cy="557.8" r="0.9"/><circle cx="625.4" cy="557.8" r="0.9"/></g><path d="M619.4 558.0l-4 5l-6 2.5M625.4 558.0l3.5 6.5l-1 10" fill="none" stroke="#444" stroke-width="0.8"/><g fill="#fff" stroke="#555" stroke-width="0.5"><circle cx="608.4" cy="566.0" r="0.9"/><circle cx="628.9" cy="565.0" r="1.3"/><circle cx="627.9" cy="576.0" r="0.9"/></g>
<g font-family="Liberation Sans, sans-serif" font-size="15" fill="#111" stroke="#111" stroke-width="0.2" text-anchor="middle">
<text x="459.6" y="601">Y3</text>
<text x="506.6" y="601">Y4</text>
<text x="569.5" y="601">Y5</text>
<text x="625.5" y="601">Y&#945;</text>
</g>
<text x="539.2" y="635.7" font-family="Liberation Sans, sans-serif" font-size="19.5" fill="#111" stroke="#111" stroke-width="0.25" text-anchor="middle">Y RNAs</text></svg></body></html>
